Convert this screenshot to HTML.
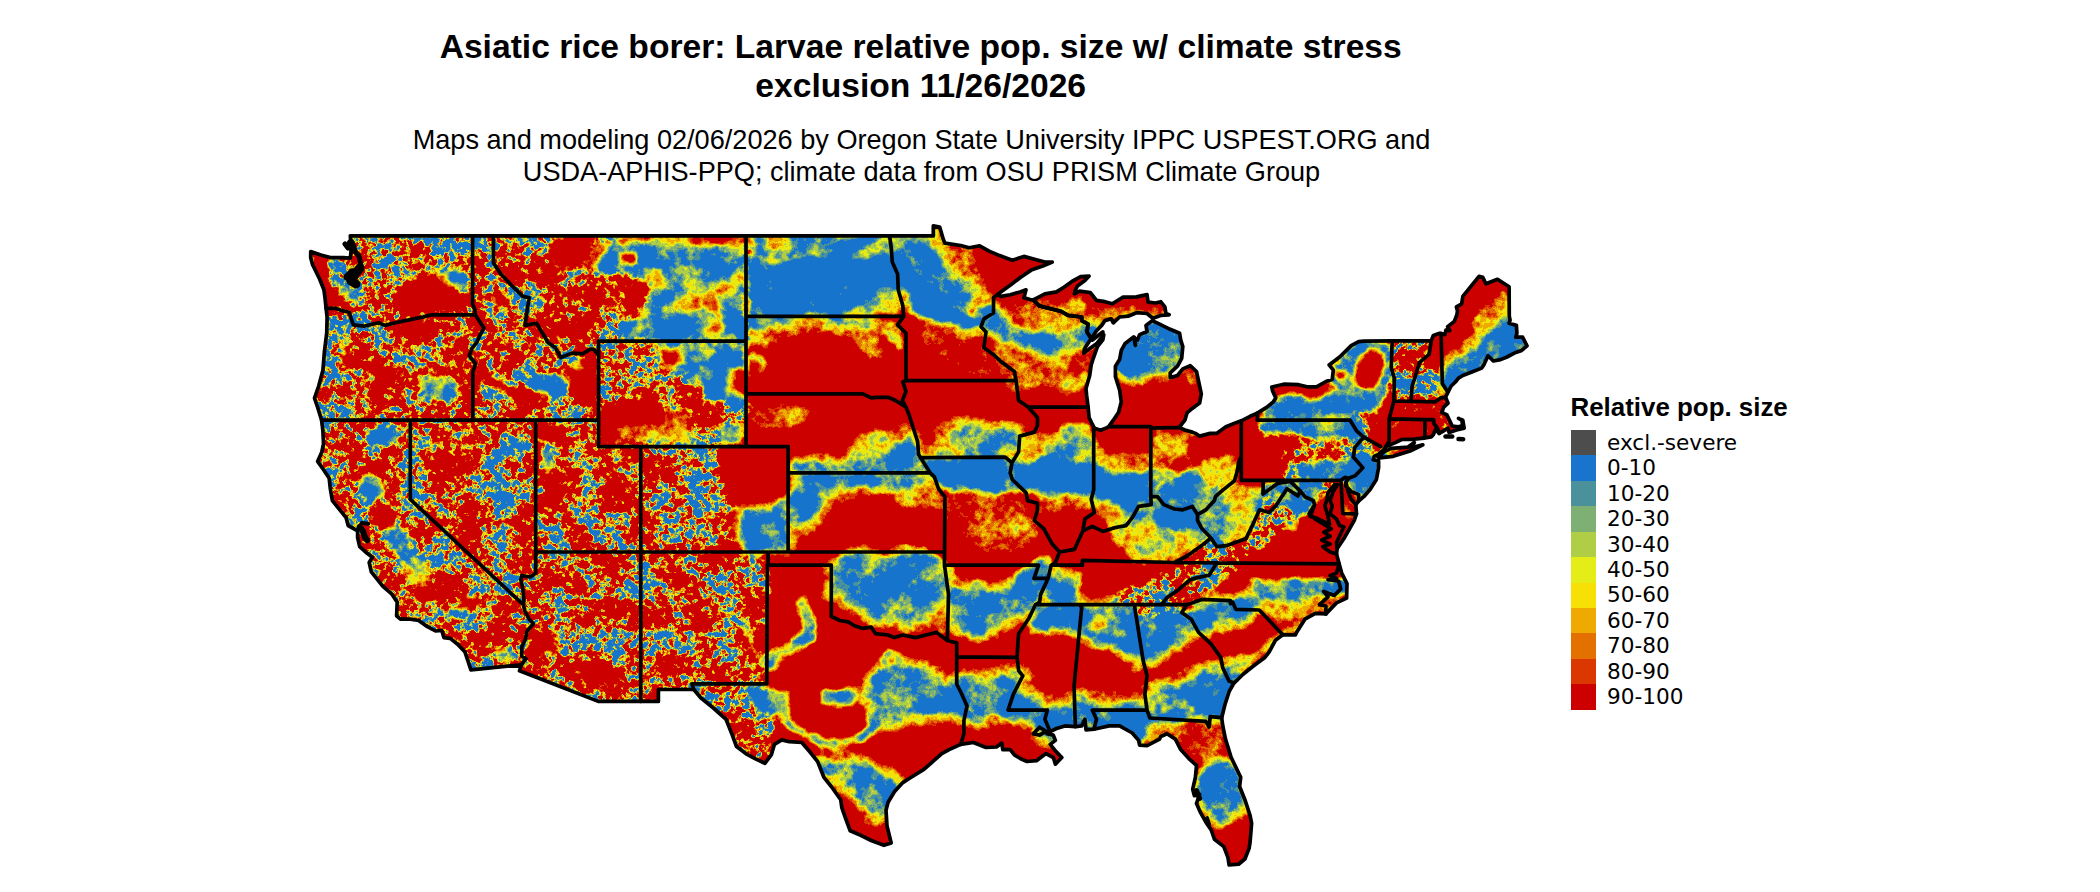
<!DOCTYPE html><html><head><meta charset="utf-8"><title>Asiatic rice borer</title><style>
html,body{margin:0;padding:0;background:#fff}body{width:2100px;height:892px;position:relative;overflow:hidden;font-family:"Liberation Sans",sans-serif;color:#000}
.t{position:absolute;white-space:nowrap;line-height:1;transform:translateX(-50%)}
.ti{font-weight:bold;font-size:33.62px;left:920.7px}.su{font-size:27.13px;left:921.5px}
.lt{position:absolute;left:1570.5px;top:395px;font-weight:bold;font-size:25.9px;line-height:1;white-space:nowrap}
.ll{position:absolute;left:1607px;font-family:"DejaVu Sans",sans-serif;font-size:21.6px;line-height:1;white-space:nowrap}
.lb{position:absolute;left:1571px;width:25px;height:25.6px}
svg{position:absolute;left:0;top:0}
</style></head><body>
<div class="t ti" style="top:29.7px">Asiatic rice borer: Larvae relative pop. size w/ climate stress</div>
<div class="t ti" style="top:69px">exclusion 11/26/2026</div>
<div class="t su" style="top:126.2px">Maps and modeling 02/06/2026 by Oregon State University IPPC USPEST.ORG and</div>
<div class="t su" style="top:158.3px">USDA-APHIS-PPQ; climate data from OSU PRISM Climate Group</div>
<svg width="2100" height="892" viewBox="0 0 2100 892">
<defs>
<clipPath id="us"><path d="M310.7 251.6L320.8 255.0L331.3 257.7L342.9 257.7L350.3 258.2L351.3 249.0L350.3 235.8L933.3 235.8L933.3 225.8L939.7 227.1L943.2 239.0L944.9 243.2L960.7 245.5L969.1 247.7L979.7 245.8L989.1 251.1L999.7 255.6L1012.3 260.3L1023.9 256.4L1035.4 259.5L1044.9 262.1L1052.3 262.1L1042.8 266.1L1031.2 270.1L1020.7 277.2L1011.2 284.5L1003.9 289.8L997.5 294.6L1000.7 296.4L1010.2 294.8L1020.7 291.7L1026.0 289.8L1023.9 297.7L1030.2 299.6L1033.3 299.8L1039.2 305.9L1060.7 311.2L1068.1 315.4L1081.7 317.0L1081.7 320.6L1088.1 324.1L1087.0 332.0L1091.2 338.6L1084.3 349.1L1083.9 353.1L1089.1 349.1L1096.5 343.8L1103.8 334.6L1102.8 339.9L1097.5 346.5L1093.3 358.3L1091.2 364.9L1089.7 375.5L1086.0 388.6L1086.6 395.2L1088.1 407.1L1089.1 417.6L1092.3 424.2L1094.4 428.2L1100.7 430.3L1107.0 427.6L1108.7 426.6L1150.8 426.6L1150.8 428.2L1179.2 427.4L1184.9 430.0L1192.3 432.1L1195.4 433.4L1199.6 436.1L1210.2 433.4L1216.5 433.4L1225.9 426.8L1235.4 422.9L1241.3 420.8L1250.1 416.3L1257.3 413.1L1267.0 407.1L1273.3 401.8L1275.8 397.9L1272.7 391.3L1271.8 387.0L1283.8 384.2L1298.6 384.7L1307.0 386.8L1316.5 386.8L1325.9 381.5L1332.2 379.4L1333.3 370.2L1329.1 364.9L1339.6 357.0L1351.2 345.7L1358.6 341.7L1363.8 341.2L1392.2 340.9L1431.2 340.9L1433.3 335.4L1439.6 333.3L1444.9 334.6L1445.9 330.1L1449.7 330.7L1447.6 326.7L1454.3 321.4L1456.9 314.8L1457.5 310.9L1456.4 306.9L1461.7 303.8L1462.8 296.4L1479.0 276.4L1482.8 277.4L1485.9 283.8L1497.5 279.3L1509.1 286.7L1509.3 316.4L1510.1 320.1L1509.1 323.3L1516.4 325.4L1516.9 333.3L1515.8 337.2L1519.6 337.2L1522.7 337.2L1527.0 345.9L1521.7 350.4L1514.3 353.1L1507.0 357.0L1500.6 359.6L1493.3 361.0L1488.0 355.7L1483.8 364.9L1481.7 368.1L1471.2 372.3L1462.8 375.5L1458.5 378.1L1455.4 382.0L1451.2 386.0L1448.0 392.1L1445.5 397.3L1448.0 403.1L1443.8 407.1L1441.7 412.3L1447.0 415.0L1450.1 421.6L1452.2 426.0L1458.5 426.8L1462.8 425.5L1461.7 420.2L1458.5 418.4L1462.8 420.2L1464.2 428.2L1456.4 430.0L1449.1 432.6L1448.0 428.2L1442.8 431.3L1439.2 433.4L1435.4 429.5L1433.3 434.7L1431.2 436.9L1423.6 438.2L1414.3 439.2L1401.7 439.5L1395.4 442.6L1385.9 446.6L1383.8 449.8L1379.6 453.2L1378.6 454.5L1374.3 456.3L1373.3 459.8L1378.6 461.1L1378.6 467.7L1376.4 479.5L1370.1 489.6L1363.8 496.7L1358.6 501.1L1355.8 504.6L1356.5 513.8L1354.3 520.4L1349.1 529.6L1343.8 538.8L1337.1 548.8L1336.5 554.1L1339.2 563.9L1341.7 573.1L1347.0 583.6L1346.6 598.1L1336.5 602.9L1325.9 613.9L1315.4 613.4L1304.9 619.2L1296.5 632.4L1295.4 635.0L1282.8 634.7L1275.4 640.3L1269.1 652.1L1264.9 657.4L1254.4 665.3L1242.8 674.5L1237.5 679.8L1233.9 683.0L1229.1 691.7L1224.9 704.8L1221.7 717.7L1222.8 725.9L1225.5 739.1L1231.2 757.5L1240.7 777.3L1239.6 786.5L1244.9 799.7L1250.1 815.5L1251.6 823.4L1250.1 841.9L1249.1 848.4L1244.9 859.0L1238.6 864.2L1229.1 865.0L1228.0 857.7L1223.8 846.6L1214.4 839.2L1211.2 830.0L1205.9 822.1L1200.7 812.9L1196.5 803.6L1199.6 794.4L1194.4 795.7L1192.7 789.2L1195.4 777.3L1196.5 765.4L1189.1 758.8L1180.7 749.6L1175.4 739.1L1167.0 733.8L1160.7 736.5L1159.6 739.1L1147.0 745.7L1139.6 745.1L1138.6 740.4L1132.3 733.0L1119.6 725.9L1109.1 725.9L1100.7 727.8L1094.0 729.1L1086.0 729.9L1084.9 719.3L1081.7 725.9L1075.4 726.7L1064.9 725.9L1056.5 728.5L1050.2 731.7L1047.0 733.8L1053.3 735.1L1055.4 740.4L1050.2 744.4L1055.4 750.9L1061.8 757.5L1055.4 764.1L1053.3 757.5L1046.0 753.6L1040.7 757.5L1036.5 760.7L1027.0 761.5L1020.7 758.8L1014.4 754.9L1010.2 749.6L1002.8 749.6L1001.8 743.0L996.5 747.0L986.0 747.5L973.3 742.5L960.7 744.4L949.1 749.6L941.8 753.6L934.4 760.2L923.9 769.4L911.2 777.3L902.8 782.6L894.4 791.8L888.1 802.3L886.0 810.2L887.0 826.0L891.2 842.9L883.9 845.3L871.2 840.5L860.7 835.3L850.2 830.8L846.0 819.5L841.8 807.6L840.7 799.7L831.3 786.5L823.9 777.3L817.6 761.5L810.2 752.3L801.8 742.5L789.2 741.7L781.8 739.9L774.4 744.4L771.3 754.9L764.9 763.3L755.5 758.8L747.1 754.4L736.5 746.5L732.3 735.1L726.0 719.3L713.4 708.0L700.7 697.7L693.8 689.5L658.4 689.5L658.4 701.4L598.2 701.4L519.5 670.8L521.4 664.8L470.9 669.8L468.1 661.4L465.0 652.1L457.6 644.2L450.2 638.4L443.9 637.6L441.8 630.5L435.5 631.0L426.0 625.8L418.7 620.5L410.3 619.2L400.4 619.2L396.6 615.8L397.2 602.1L391.9 594.2L382.9 586.3L371.3 571.8L369.2 562.5L372.4 557.3L367.1 553.3L359.7 546.7L357.6 537.5L357.6 530.9L348.2 525.6L346.1 517.7L336.6 505.9L332.4 500.6L330.3 488.8L329.2 478.2L323.9 470.3L317.6 461.4L321.8 451.9L323.5 444.0L322.9 430.8L321.6 420.2L317.6 407.1L314.5 398.1L318.7 386.0L322.9 370.2L324.4 351.7L326.7 333.3L327.1 317.5L326.1 308.3L325.0 297.7L323.9 289.8L319.7 279.3L312.6 264.8L310.7 257.7ZM1033.3 299.8L1044.9 293.8L1056.5 291.9L1063.9 287.2L1073.3 280.6L1080.7 276.6L1089.1 276.1L1084.9 280.6L1077.5 285.9L1075.4 289.8L1074.4 293.8L1079.6 291.1L1090.2 292.5L1096.5 300.4L1104.9 301.7L1112.3 303.8L1122.8 297.2L1136.5 296.9L1147.0 294.6L1148.1 302.2L1155.4 303.0L1160.7 301.7L1164.9 306.9L1165.9 313.5L1169.1 314.8L1160.7 315.4L1152.9 318.3L1147.0 313.5L1136.5 312.7L1128.1 316.2L1119.6 317.0L1113.3 322.8L1111.2 318.8L1104.9 320.6L1101.7 325.4L1096.5 330.7L1091.2 338.6L1087.0 332.0L1088.1 324.1L1081.7 320.6L1081.7 317.0L1068.1 315.4L1060.7 311.2L1039.2 305.9ZM1108.7 426.6L1113.3 420.2L1118.6 412.3L1121.3 401.8L1119.6 389.9L1115.4 376.8L1115.4 366.2L1119.6 359.6L1121.3 350.4L1124.9 343.8L1133.3 337.2L1137.5 339.9L1139.6 334.6L1147.0 331.5L1146.0 325.4L1152.3 320.6L1159.6 324.1L1170.2 329.3L1179.6 333.3L1180.7 339.9L1182.8 346.5L1181.7 358.3L1177.5 366.2L1170.2 372.8L1170.2 377.6L1177.5 375.5L1182.8 368.9L1190.2 365.7L1196.5 371.5L1199.6 386.0L1201.3 393.9L1199.6 403.1L1192.3 408.4L1187.0 412.9L1184.9 420.2L1179.2 427.4L1150.8 428.2L1150.8 426.6ZM1378.1 457.1L1383.8 451.9L1391.2 448.4L1408.0 447.1L1414.3 442.6L1411.2 447.9L1422.8 444.8L1410.1 451.1L1393.3 456.3L1379.6 457.9Z"/></clipPath>
<filter id="fe" x="300" y="220" width="1240" height="670" filterUnits="userSpaceOnUse" color-interpolation-filters="sRGB"><feTurbulence type="fractalNoise" baseFrequency="0.03" numOctaves="2" seed="11" result="nd"/><feDisplacementMap in="SourceGraphic" in2="nd" scale="10" xChannelSelector="R" yChannelSelector="G" result="dsp"/><feGaussianBlur in="dsp" stdDeviation="3" result="b"/><feColorMatrix in="b" type="matrix" values=".5 -.3 -.3 0 .25 .5 -.3 -.3 0 .25 .5 -.3 -.3 0 .25 0 0 0 0 1" result="t2"/><feColorMatrix in="b" type="matrix" values="0 1 0 0 0 0 1 0 0 0 0 1 0 0 0 0 0 0 0 1" result="F"/><feColorMatrix in="b" type="matrix" values="0 0 1 0 0 0 0 1 0 0 0 0 1 0 0 0 0 0 0 1" result="C"/><feTurbulence type="fractalNoise" baseFrequency="0.16" numOctaves="3" seed="7" result="n1"/><feColorMatrix in="n1" type="matrix" values="1.8 0 0 0 -0.4 1.8 0 0 0 -0.4 1.8 0 0 0 -0.4 0 0 0 0 1" result="N1"/><feTurbulence type="fractalNoise" baseFrequency="0.035" numOctaves="3" seed="23" result="n2"/><feColorMatrix in="n2" type="matrix" values="2.2 0 0 0 -0.6000000000000001 2.2 0 0 0 -0.6000000000000001 2.2 0 0 0 -0.6000000000000001 0 0 0 0 1" result="N2"/><feComposite in="F" in2="N1" operator="arithmetic" k1="1" k2="0" k3="0" k4="0" result="p1"/><feComposite in="C" in2="N2" operator="arithmetic" k1="1" k2="0" k3="0" k4="0" result="p2"/><feComposite in="t2" in2="p1" operator="arithmetic" k1="0" k2="1" k3=".6" k4="0" result="t3"/><feComposite in="t3" in2="p2" operator="arithmetic" k1="0" k2="1" k3=".6" k4="0" result="u"/><feComponentTransfer in="u"><feFuncR type="discrete" tableValues="0.094 0.094 0.094 0.094 0.094 0.094 0.094 0.094 0.094 0.094 0.094 0.094 0.094 0.094 0.094 0.094 0.290 0.494 0.690 0.894 0.969 0.933 0.894 0.855 0.804 0.804 0.804 0.804 0.804 0.804 0.804 0.804 0.804 0.804 0.804 0.804 0.804 0.804 0.804 0.804"/><feFuncG type="discrete" tableValues="0.455 0.455 0.455 0.455 0.455 0.455 0.455 0.455 0.455 0.455 0.455 0.455 0.455 0.455 0.455 0.455 0.569 0.690 0.808 0.929 0.878 0.667 0.439 0.220 0.000 0.000 0.000 0.000 0.000 0.000 0.000 0.000 0.000 0.000 0.000 0.000 0.000 0.000 0.000 0.000"/><feFuncB type="discrete" tableValues="0.804 0.804 0.804 0.804 0.804 0.804 0.804 0.804 0.804 0.804 0.804 0.804 0.804 0.804 0.804 0.804 0.608 0.451 0.271 0.094 0.020 0.000 0.000 0.000 0.000 0.000 0.000 0.000 0.000 0.000 0.000 0.000 0.000 0.000 0.000 0.000 0.000 0.000 0.000 0.000"/></feComponentTransfer></filter>
</defs>
<g clip-path="url(#us)">
<g filter="url(#fe)"><rect x="280" y="200" width="1280" height="710" fill="#ff1a4c"/><path d="M614.8 239.1L660.0 239.1L660.0 275.5L643.1 277.5L622.9 269.4L602.7 273.4L590.6 277.5L598.7 265.4L610.8 253.3Z" fill="none" stroke="#7d2638" stroke-width="10" stroke-linejoin="round"/><path d="M358.5 473.6L372.7 471.6L384.8 481.7L384.8 499.9L368.6 503.9L358.5 489.8Z" fill="none" stroke="#7d2638" stroke-width="8" stroke-linejoin="round"/><path d="M382.7 526.1L400.9 524.1L413.0 542.2L413.0 562.4L400.9 562.4L388.8 546.3Z" fill="none" stroke="#7d2638" stroke-width="10" stroke-linejoin="round"/><path d="M513.9 653.6L512.9 657.1L510.1 659.9L506.1 661.5L501.6 661.5L497.5 659.9L494.7 657.1L493.7 653.6L494.7 650.1L497.5 647.3L501.6 645.7L506.1 645.7L510.1 647.3L512.9 650.1Z" fill="none" stroke="#7d2638" stroke-width="8" stroke-linejoin="round"/><path d="M300.0 220.0L748.0 220.0L748.0 447.0L722.0 447.0L722.0 552.0L767.0 552.0L767.0 690.0L775.0 720.0L765.0 780.0L300.0 780.0Z" fill="#a8e6b2"/><path d="M311.1 251.2L330.3 257.3L326.2 271.4L334.3 285.5L332.3 305.7L326.2 305.7L320.2 275.5Z" fill="#ff1a4c"/><path d="M328.3 261.3L346.4 261.3L348.4 277.5L340.4 291.6L330.3 281.5Z" fill="#4cccb2"/><path d="M336.3 283.5L352.5 285.5L360.5 293.6L358.5 305.7L346.4 305.7L338.3 295.6Z" fill="#3d264c"/><path d="M352.5 237.1L471.5 237.1L471.5 265.4L425.1 267.4L409.0 281.5L394.9 295.6L380.7 313.8L360.5 309.8L358.5 285.5L360.5 265.4Z" fill="#8ce6b2"/><path d="M425.1 269.4L441.3 265.4L461.5 269.4L470.5 277.5L470.5 291.6L459.4 289.6L445.3 281.5L437.2 273.4Z" fill="#3d264c"/><path d="M429.2 275.5L441.3 275.5L455.4 285.5L453.4 291.6L439.3 289.6L429.2 283.5Z" fill="#9c262e"/><path d="M409.0 283.5L421.1 273.4L429.2 273.4L437.2 287.6L457.4 292.6L469.5 297.7L469.5 305.7L453.4 309.8L429.2 313.8L413.0 311.8L394.9 305.7L396.9 295.6Z" fill="#ff1a4c"/><path d="M326.2 313.8L352.5 325.9L356.5 350.1L348.4 378.4L336.3 402.6L316.1 402.6L322.2 366.3L325.2 338.0Z" fill="#8ce6b2"/><path d="M340.4 334.0L348.4 338.0L348.4 362.2L340.4 366.3Z" fill="#7d2638"/><path d="M394.9 325.9L441.3 319.9L473.6 317.8L477.6 334.0L453.4 338.0L429.2 346.1L404.9 350.1L388.8 346.1Z" fill="#bfccb2"/><path d="M366.6 366.3L413.0 364.3L429.2 354.2L441.3 346.1L453.4 338.0L467.5 338.0L471.5 354.2L467.5 366.3L453.4 370.3L441.3 382.4L421.1 386.5L409.0 394.5L396.9 404.6L366.6 404.6L360.5 386.5Z" fill="#d9b299"/><path d="M417.1 378.4L441.3 374.3L457.4 378.4L461.5 392.5L449.3 402.6L425.1 400.6L415.0 390.5Z" fill="#3d264c"/><path d="M493.7 291.6L509.9 293.6L513.9 305.7L501.8 309.8L491.7 301.7Z" fill="#ff1a4c"/><path d="M474.6 358.2L481.6 364.3L493.7 376.4L513.9 386.5L542.2 392.5L552.3 394.5L546.2 402.6L522.0 398.6L493.7 390.5L477.6 378.4Z" fill="#ff1a4c"/><path d="M528.1 374.3L552.3 372.3L570.4 378.4L568.4 396.5L552.3 398.6L534.1 386.5Z" fill="#3d264c"/><path d="M562.4 366.3L578.5 358.2L596.7 354.2L596.7 404.6L580.5 404.6L570.4 378.4Z" fill="#ff1a4c"/><path d="M582.5 367.3L581.8 369.9L579.9 372.0L577.1 373.2L573.9 373.2L571.1 372.0L569.1 369.9L568.4 367.3L569.1 364.7L571.1 362.5L573.9 361.4L577.1 361.4L579.9 362.5L581.8 364.7Z" fill="#7d2638"/><path d="M495.8 239.1L554.3 239.1L582.5 277.5L582.5 338.0L552.3 346.1L532.1 321.9L528.1 295.6L501.8 275.5Z" fill="#bfccb2"/><path d="M554.3 239.1L582.5 239.1L586.6 251.2L578.5 265.4L562.4 271.4L552.3 261.3L550.3 247.2Z" fill="#ff1a4c"/><path d="M614.8 239.1L660.0 239.1L660.0 275.5L643.1 277.5L622.9 269.4L602.7 273.4L590.6 277.5L598.7 265.4L610.8 253.3Z" fill="#3d264c"/><path d="M582.5 241.1L614.8 239.1L610.8 253.3L598.7 265.4L586.6 273.4L578.5 267.4L586.6 253.3Z" fill="#9c262e"/><path d="M643.1 257.3L642.1 259.9L639.3 262.0L635.2 263.2L630.8 263.2L626.7 262.0L623.9 259.9L622.9 257.3L623.9 254.7L626.7 252.6L630.8 251.4L635.2 251.4L639.3 252.6L642.1 254.7Z" fill="#ff1a4c"/><path d="M582.5 285.5L596.7 277.5L610.8 273.4L622.9 279.5L639.1 281.5L647.1 293.6L643.1 305.7L631.0 313.8L614.8 319.9L598.7 313.8L586.6 305.7L578.5 295.6Z" fill="#d9b299"/><path d="M647.1 275.5L660.0 275.5L660.0 338.0L647.1 338.0L643.1 315.8L649.1 293.6Z" fill="#3d264c"/><path d="M600.7 342.1L660.0 342.1L660.0 404.6L600.7 404.6Z" fill="#66e6b2"/><path d="M366.6 225.0L366.6 225.0L366.6 225.0Z" fill="#3d264c"/><path d="M366.6 427.2L396.9 425.2L400.9 441.3L386.8 447.4L368.6 441.3Z" fill="#3d264c"/><path d="M358.5 473.6L372.7 471.6L384.8 481.7L384.8 499.9L368.6 503.9L358.5 489.8Z" fill="#3d264c"/><path d="M368.6 507.9L388.8 505.9L398.9 518.0L388.8 528.1L372.7 524.1Z" fill="#ff1a4c"/><path d="M382.7 526.1L400.9 524.1L413.0 542.2L413.0 562.4L400.9 562.4L388.8 546.3Z" fill="#472633"/><path d="M400.9 558.4L417.1 554.3L431.2 566.5L429.2 584.6L404.9 584.6Z" fill="#7d2638"/><path d="M429.2 435.3L453.4 429.2L477.6 435.3L481.6 455.5L473.6 471.6L449.3 471.6L429.2 463.5L421.1 449.4Z" fill="#d9b299"/><path d="M481.6 437.3L532.1 435.3L534.1 501.9L501.8 505.9L473.6 489.8L481.6 465.5Z" fill="#66e6b2"/><path d="M539.2 447.4L554.3 445.4L556.3 471.6L542.2 477.7Z" fill="#692638"/><path d="M539.2 423.2L562.4 423.2L560.3 439.3L539.2 441.3Z" fill="#ff1a4c"/><path d="M542.2 475.6L562.4 471.6L586.6 477.7L582.5 501.9L562.4 509.9L546.2 530.1L540.2 518.0Z" fill="#d9b299"/><path d="M598.7 451.4L641.1 449.4L641.1 485.7L614.8 485.7L598.7 471.6Z" fill="#d9b299"/><path d="M600.7 405.0L660.0 405.0L660.0 421.1L622.9 423.2L614.8 443.3L600.7 443.3Z" fill="#ff1a4c"/><path d="M622.9 423.2L660.0 421.1L660.0 443.3L614.8 443.3Z" fill="#9c262e"/><path d="M437.2 594.1L436.0 597.6L432.7 600.4L427.8 602.0L422.4 602.0L417.6 600.4L414.2 597.6L413.0 594.1L414.2 590.6L417.6 587.8L422.4 586.2L427.8 586.2L432.7 587.8L436.0 590.6Z" fill="#ff1a4c"/><path d="M481.6 604.2L480.4 607.2L477.1 609.7L472.2 611.1L466.8 611.1L462.0 609.7L458.6 607.2L457.4 604.2L458.6 601.1L462.0 598.7L466.8 597.3L472.2 597.3L477.1 598.7L480.4 601.1Z" fill="#ff1a4c"/><path d="M463.5 612.2L462.6 614.4L460.1 616.2L456.4 617.2L452.4 617.2L448.7 616.2L446.2 614.4L445.3 612.2L446.2 610.1L448.7 608.3L452.4 607.3L456.4 607.3L460.1 608.3L462.6 610.1Z" fill="#3d264c"/><path d="M513.9 653.6L512.9 657.1L510.1 659.9L506.1 661.5L501.6 661.5L497.5 659.9L494.7 657.1L493.7 653.6L494.7 650.1L497.5 647.3L501.6 645.7L506.1 645.7L510.1 647.3L512.9 650.1Z" fill="#3d264c"/><path d="M532.1 631.4L558.3 631.4L558.3 651.6L532.1 651.6Z" fill="#ff1a4c"/><path d="M566.4 661.7L602.7 659.7L614.8 675.8L606.8 698.0L582.5 694.0L566.4 679.9Z" fill="#d9b299"/><path d="M767.0 585.0L767.0 683.9L773.0 706.1L769.0 764.6L690.3 764.6L690.3 681.9L660.0 681.9L660.0 585.0Z" fill="#a8e6b2"/><path d="M738.7 607.2L766.0 605.2L766.0 681.9L748.8 681.9L744.8 645.5Z" fill="#d9b299"/><path d="M742.7 623.3L750.8 645.5L764.9 661.7" fill="none" stroke="#3d264c" stroke-width="6" stroke-linejoin="round" stroke-linecap="round"/><path d="M660.0 446.4L720.5 446.4L722.6 471.6L728.6 491.8L740.7 514.0L736.7 534.2L744.8 550.3L660.0 550.3Z" fill="#8ce6b2"/><path d="M895.4 250.2L907.5 260.3L913.6 282.5L921.6 296.6L933.7 306.7L953.9 314.8L980.2 318.8L988.2 314.8L988.2 330.9L980.2 324.9L962.0 324.9L949.9 322.8L937.8 320.8L929.7 314.8L921.6 310.7L913.6 302.7L907.5 292.6L901.5 284.5L895.4 270.4Z" fill="none" stroke="#9c262e" stroke-width="23.400000000000002" stroke-linejoin="round"/><path d="M791.2 465.5L821.5 458.5L841.6 462.5L853.7 452.4L861.8 442.3L878.0 434.3L894.1 434.3L908.2 428.2L915.3 433.3L928.4 471.6L791.2 472.6Z" fill="none" stroke="#9c262e" stroke-width="14.4" stroke-linejoin="round"/><path d="M958.7 427.2L1020.0 425.2L1020.0 459.5L946.6 459.5L950.6 445.4Z" fill="none" stroke="#9c262e" stroke-width="12.6" stroke-linejoin="round"/><path d="M924.4 459.5L1020.0 459.5L1020.0 485.7L1003.1 495.8L991.0 493.8L974.8 481.7L962.7 485.7L950.6 493.8L938.5 485.7L928.4 471.6Z" fill="none" stroke="#9c262e" stroke-width="28.8" stroke-linejoin="round"/><path d="M791.2 473.6L928.4 473.6L928.4 481.7L902.2 485.7L869.9 482.7L853.7 486.7L833.6 494.8L821.5 502.9L813.4 515.0L801.3 525.1L791.2 527.1Z" fill="none" stroke="#9c262e" stroke-width="27.0" stroke-linejoin="round"/><path d="M740.7 514.0L764.9 505.9L787.1 501.9L787.1 550.3L748.8 546.3L736.7 530.1Z" fill="none" stroke="#9c262e" stroke-width="18.0" stroke-linejoin="round"/><path d="M871.9 679.9L886.0 669.8L902.2 665.7L922.4 673.8L942.5 681.9L962.7 689.9L964.7 716.2L942.5 714.2L912.3 714.2L892.1 718.2L873.9 714.2L869.9 698.0Z" fill="none" stroke="#9c262e" stroke-width="25.2" stroke-linejoin="round"/><path d="M835.0 568.0L860.0 555.5L900.0 555.5L925.0 563.0L942.5 573.0L942.5 598.0L925.0 618.0L900.0 623.0L875.0 618.0L850.0 603.0L832.5 593.0Z" fill="none" stroke="#9c262e" stroke-width="25.2" stroke-linejoin="round"/><path d="M947.5 593.0L975.0 588.0L1000.0 593.0L1020.0 583.0L1040.0 568.0L1045.0 578.0L1040.0 593.0L1025.0 613.0L1000.0 623.0L975.0 633.0L950.0 628.0Z" fill="none" stroke="#9c262e" stroke-width="25.2" stroke-linejoin="round"/><path d="M1045.0 578.0L1075.0 578.0L1075.0 603.0L1050.0 608.0L1042.5 593.0Z" fill="none" stroke="#9c262e" stroke-width="18.0" stroke-linejoin="round"/><path d="M940.0 431.2L960.2 424.2L990.5 427.2L1020.7 431.2L1016.7 456.5L940.0 456.5Z" fill="none" stroke="#9c262e" stroke-width="14.4" stroke-linejoin="round"/><path d="M1113.6 518.0L1141.8 518.0L1162.0 528.1L1194.3 528.1L1206.4 546.3L1182.2 558.4L1141.8 558.4L1117.6 542.2Z" fill="none" stroke="#9c262e" stroke-width="14.4" stroke-linejoin="round"/><path d="M940.0 457.5L1010.6 456.5L1020.7 465.5L1040.9 457.5L1053.0 447.4L1069.2 445.4L1085.3 453.4L1095.4 463.5L1107.5 471.6L1121.6 475.6L1133.7 471.6L1149.9 473.6L1162.0 467.6L1174.1 475.6L1186.2 469.6L1202.4 475.6L1202.4 534.2L1194.3 526.1L1178.1 530.1L1162.0 526.1L1149.9 514.0L1137.8 518.0L1129.7 512.0L1117.6 507.9L1101.5 499.9L1093.4 495.8L1069.2 493.8L1053.0 497.8L1028.8 493.8L1016.7 489.8L1000.5 493.8L980.4 485.7L960.2 489.8L940.0 485.7Z" fill="none" stroke="#9c262e" stroke-width="32.4" stroke-linejoin="round"/><path d="M1445.0 380.0L1457.5 360.0L1475.0 345.0L1490.0 330.0L1505.0 320.0L1512.5 320.0L1525.0 327.5L1535.0 345.0L1515.0 365.0L1500.0 362.5L1485.0 367.5L1475.0 377.5L1460.0 390.0L1450.0 395.0Z" fill="none" stroke="#9c262e" stroke-width="25.2" stroke-linejoin="round"/><path d="M1118.5 346.6L1126.6 336.5L1138.7 328.4L1148.8 320.4L1156.9 318.3L1169.0 320.4L1181.1 326.4L1189.2 336.5L1190.2 348.6L1187.1 360.7L1179.1 368.8L1169.0 370.8L1156.9 371.8L1146.8 374.9L1136.7 376.9L1126.6 374.9L1118.5 368.8L1118.5 356.7Z" fill="none" stroke="#9c262e" stroke-width="18.0" stroke-linejoin="round"/><path d="M1184.1 444.5L1183.6 446.7L1182.2 448.4L1180.2 449.4L1177.9 449.4L1175.9 448.4L1174.5 446.7L1174.0 444.5L1174.5 442.3L1175.9 440.5L1177.9 439.6L1180.2 439.6L1182.2 440.5L1183.6 442.3Z" fill="none" stroke="#9c262e" stroke-width="14.4" stroke-linejoin="round"/><path d="M1034.3 605.2L1137.2 605.2L1141.3 617.3L1161.5 613.3L1181.6 611.2L1201.8 605.2L1232.1 601.1L1258.3 597.1L1270.4 601.1L1258.3 605.2L1242.2 617.3L1226.0 625.4L1209.9 629.4L1193.7 633.4L1181.6 643.5L1165.5 651.6L1153.4 659.7L1137.2 661.7L1125.1 653.6L1113.0 639.5L1096.9 641.5L1080.7 631.4L1066.6 625.4L1050.5 631.4L1034.3 625.4Z" fill="none" stroke="#9c262e" stroke-width="21.6" stroke-linejoin="round"/><path d="M1000.0 673.8L1012.1 685.9L1028.3 700.0L1040.4 706.1L1060.5 706.1L1076.7 704.1L1092.8 706.1L1113.0 704.1L1129.2 704.1L1145.3 700.0L1157.4 689.9L1173.6 685.9L1189.7 681.9L1201.8 673.8L1218.0 669.8L1238.1 665.7L1242.2 689.9L1230.1 714.2L1209.9 724.3L1201.8 718.2L1181.6 722.2L1161.5 730.3L1153.4 724.3L1145.3 730.3L1141.3 746.5L1125.1 738.4L1104.9 738.4L1092.8 738.4L1080.7 742.4L1060.5 738.4L1048.4 734.3L1036.3 726.3L1020.2 716.2L1000.0 714.2Z" fill="none" stroke="#9c262e" stroke-width="28.8" stroke-linejoin="round"/><path d="M962.7 681.9L1020.0 673.8L1020.0 716.2L962.7 716.2Z" fill="none" stroke="#9c262e" stroke-width="25.2" stroke-linejoin="round"/><path d="M1201.8 774.5L1218.6 763.3L1238.3 768.9L1243.9 797.0L1241.1 813.8L1218.6 819.4L1201.8 808.2L1196.2 791.4Z" fill="none" stroke="#9c262e" stroke-width="18.0" stroke-linejoin="round"/><path d="M821.4 763.3L846.6 760.5L874.6 766.1L897.0 785.7L891.4 813.7L869.0 813.7L846.6 785.7L829.8 780.1Z" fill="none" stroke="#9c262e" stroke-width="21.6" stroke-linejoin="round"/><path d="M620.0 227.0L746.1 227.0L746.1 243.2L724.9 245.2L700.7 247.2L680.5 243.2L660.4 245.2L640.2 243.2L620.0 245.2Z" fill="none" stroke="#7d2638" stroke-width="4.8" stroke-linejoin="round"/><path d="M640.2 267.4L660.4 265.4L668.4 277.5L666.4 291.6L654.3 289.6L644.2 279.5Z" fill="none" stroke="#7d2638" stroke-width="6.0" stroke-linejoin="round"/><path d="M656.3 346.1L680.5 344.1L686.6 362.2L676.5 374.3L660.4 370.3Z" fill="none" stroke="#7d2638" stroke-width="4.8" stroke-linejoin="round"/><path d="M722.9 370.3L746.1 364.3L746.1 394.5L724.9 392.5Z" fill="none" stroke="#7d2638" stroke-width="6.0" stroke-linejoin="round"/><path d="M759.3 227.0L787.5 227.0L791.5 250.2L765.3 254.3Z" fill="none" stroke="#7d2638" stroke-width="6.0" stroke-linejoin="round"/><path d="M829.9 227.0L862.2 227.0L858.1 239.1L833.9 239.1Z" fill="none" stroke="#7d2638" stroke-width="3.5999999999999996" stroke-linejoin="round"/><path d="M895.4 250.2L907.5 260.3L913.6 282.5L921.6 296.6L933.7 306.7L953.9 314.8L980.2 318.8L988.2 314.8L988.2 330.9L980.2 324.9L962.0 324.9L949.9 322.8L937.8 320.8L929.7 314.8L921.6 310.7L913.6 302.7L907.5 292.6L901.5 284.5L895.4 270.4Z" fill="none" stroke="#7d2638" stroke-width="7.199999999999999" stroke-linejoin="round"/><path d="M924.4 459.5L1020.0 459.5L1020.0 485.7L1003.1 495.8L991.0 493.8L974.8 481.7L962.7 485.7L950.6 493.8L938.5 485.7L928.4 471.6Z" fill="none" stroke="#7d2638" stroke-width="8.4" stroke-linejoin="round"/><path d="M791.2 473.6L928.4 473.6L928.4 481.7L902.2 485.7L869.9 482.7L853.7 486.7L833.6 494.8L821.5 502.9L813.4 515.0L801.3 525.1L791.2 527.1Z" fill="none" stroke="#7d2638" stroke-width="8.4" stroke-linejoin="round"/><path d="M740.7 514.0L764.9 505.9L787.1 501.9L787.1 550.3L748.8 546.3L736.7 530.1Z" fill="none" stroke="#7d2638" stroke-width="6.0" stroke-linejoin="round"/><path d="M871.9 679.9L886.0 669.8L902.2 665.7L922.4 673.8L942.5 681.9L962.7 689.9L964.7 716.2L942.5 714.2L912.3 714.2L892.1 718.2L873.9 714.2L869.9 698.0Z" fill="none" stroke="#7d2638" stroke-width="9.6" stroke-linejoin="round"/><path d="M819.4 689.9L853.7 687.9L851.7 704.1L821.5 704.1Z" fill="none" stroke="#7d2638" stroke-width="6.0" stroke-linejoin="round"/><path d="M750.8 692.0L789.2 689.9L789.2 714.2L764.9 714.2L750.8 704.1Z" fill="none" stroke="#7d2638" stroke-width="6.0" stroke-linejoin="round"/><path d="M903.2 660.7L902.2 664.2L899.4 667.0L895.3 668.6L890.9 668.6L886.8 667.0L884.0 664.2L883.0 660.7L884.0 657.2L886.8 654.4L890.9 652.8L895.3 652.8L899.4 654.4L902.2 657.2Z" fill="none" stroke="#7d2638" stroke-width="4.8" stroke-linejoin="round"/><path d="M835.0 568.0L860.0 555.5L900.0 555.5L925.0 563.0L942.5 573.0L942.5 598.0L925.0 618.0L900.0 623.0L875.0 618.0L850.0 603.0L832.5 593.0Z" fill="none" stroke="#7d2638" stroke-width="9.6" stroke-linejoin="round"/><path d="M947.5 593.0L975.0 588.0L1000.0 593.0L1020.0 583.0L1040.0 568.0L1045.0 578.0L1040.0 593.0L1025.0 613.0L1000.0 623.0L975.0 633.0L950.0 628.0Z" fill="none" stroke="#7d2638" stroke-width="9.6" stroke-linejoin="round"/><path d="M1045.0 578.0L1075.0 578.0L1075.0 603.0L1050.0 608.0L1042.5 593.0Z" fill="none" stroke="#7d2638" stroke-width="8.4" stroke-linejoin="round"/><path d="M940.0 457.5L1010.6 456.5L1020.7 465.5L1040.9 457.5L1053.0 447.4L1069.2 445.4L1085.3 453.4L1095.4 463.5L1107.5 471.6L1121.6 475.6L1133.7 471.6L1149.9 473.6L1162.0 467.6L1174.1 475.6L1186.2 469.6L1202.4 475.6L1202.4 534.2L1194.3 526.1L1178.1 530.1L1162.0 526.1L1149.9 514.0L1137.8 518.0L1129.7 512.0L1117.6 507.9L1101.5 499.9L1093.4 495.8L1069.2 493.8L1053.0 497.8L1028.8 493.8L1016.7 489.8L1000.5 493.8L980.4 485.7L960.2 489.8L940.0 485.7Z" fill="none" stroke="#7d2638" stroke-width="9.6" stroke-linejoin="round"/><path d="M1258.5 421.1L1361.5 421.1L1361.5 439.3L1329.2 443.3L1296.9 437.3L1258.5 435.3Z" fill="none" stroke="#7d2638" stroke-width="7.199999999999999" stroke-linejoin="round"/><path d="M1296.9 465.5L1325.1 459.5L1357.4 455.5L1361.5 451.4L1387.7 451.4L1387.7 473.6L1375.6 493.8L1361.5 505.9L1353.4 485.7L1345.3 479.7L1296.9 479.7Z" fill="none" stroke="#7d2638" stroke-width="7.199999999999999" stroke-linejoin="round"/><path d="M1264.6 483.7L1325.1 481.7L1321.1 499.9L1304.9 509.9L1276.7 505.9Z" fill="none" stroke="#7d2638" stroke-width="6.0" stroke-linejoin="round"/><path d="M1445.0 380.0L1457.5 360.0L1475.0 345.0L1490.0 330.0L1505.0 320.0L1512.5 320.0L1525.0 327.5L1535.0 345.0L1515.0 365.0L1500.0 362.5L1485.0 367.5L1475.0 377.5L1460.0 390.0L1450.0 395.0Z" fill="none" stroke="#7d2638" stroke-width="7.199999999999999" stroke-linejoin="round"/><path d="M1340.0 347.5L1362.5 340.0L1390.0 342.5L1390.0 400.0L1345.0 400.0L1332.5 380.0Z" fill="none" stroke="#7d2638" stroke-width="6.0" stroke-linejoin="round"/><path d="M1261.8 401.1L1278.0 397.1L1322.4 399.1L1330.4 393.0L1378.9 393.0L1382.9 409.2L1322.4 417.2L1261.8 419.3Z" fill="none" stroke="#7d2638" stroke-width="6.0" stroke-linejoin="round"/><path d="M1118.5 346.6L1126.6 336.5L1138.7 328.4L1148.8 320.4L1156.9 318.3L1169.0 320.4L1181.1 326.4L1189.2 336.5L1190.2 348.6L1187.1 360.7L1179.1 368.8L1169.0 370.8L1156.9 371.8L1146.8 374.9L1136.7 376.9L1126.6 374.9L1118.5 368.8L1118.5 356.7Z" fill="none" stroke="#7d2638" stroke-width="6.0" stroke-linejoin="round"/><path d="M1034.3 605.2L1137.2 605.2L1141.3 617.3L1161.5 613.3L1181.6 611.2L1201.8 605.2L1232.1 601.1L1258.3 597.1L1270.4 601.1L1258.3 605.2L1242.2 617.3L1226.0 625.4L1209.9 629.4L1193.7 633.4L1181.6 643.5L1165.5 651.6L1153.4 659.7L1137.2 661.7L1125.1 653.6L1113.0 639.5L1096.9 641.5L1080.7 631.4L1066.6 625.4L1050.5 631.4L1034.3 625.4Z" fill="none" stroke="#7d2638" stroke-width="8.4" stroke-linejoin="round"/><path d="M1000.0 585.0L1040.4 585.0L1034.3 605.2L1024.2 611.2L1000.0 607.2Z" fill="none" stroke="#7d2638" stroke-width="7.199999999999999" stroke-linejoin="round"/><path d="M1000.0 673.8L1012.1 685.9L1028.3 700.0L1040.4 706.1L1060.5 706.1L1076.7 704.1L1092.8 706.1L1113.0 704.1L1129.2 704.1L1145.3 700.0L1157.4 689.9L1173.6 685.9L1189.7 681.9L1201.8 673.8L1218.0 669.8L1238.1 665.7L1242.2 689.9L1230.1 714.2L1209.9 724.3L1201.8 718.2L1181.6 722.2L1161.5 730.3L1153.4 724.3L1145.3 730.3L1141.3 746.5L1125.1 738.4L1104.9 738.4L1092.8 738.4L1080.7 742.4L1060.5 738.4L1048.4 734.3L1036.3 726.3L1020.2 716.2L1000.0 714.2Z" fill="none" stroke="#7d2638" stroke-width="9.6" stroke-linejoin="round"/><path d="M1252.3 581.0L1355.2 581.0L1355.2 593.1L1302.7 599.1L1262.4 601.1Z" fill="none" stroke="#7d2638" stroke-width="6.0" stroke-linejoin="round"/><path d="M962.7 681.9L1020.0 673.8L1020.0 716.2L962.7 716.2Z" fill="none" stroke="#7d2638" stroke-width="9.6" stroke-linejoin="round"/><path d="M1201.8 774.5L1218.6 763.3L1238.3 768.9L1243.9 797.0L1241.1 813.8L1218.6 819.4L1201.8 808.2L1196.2 791.4Z" fill="none" stroke="#7d2638" stroke-width="7.199999999999999" stroke-linejoin="round"/><path d="M821.4 763.3L846.6 760.5L874.6 766.1L897.0 785.7L891.4 813.7L869.0 813.7L846.6 785.7L829.8 780.1Z" fill="none" stroke="#7d2638" stroke-width="7.199999999999999" stroke-linejoin="round"/><path d="M790.5 465.0L840.9 461.6L881.3 457.5L921.6 460.5L921.6 471.0L790.5 471.0Z" fill="none" stroke="#7d2638" stroke-width="4.8" stroke-linejoin="round"/><path d="M620.0 227.0L746.1 227.0L746.1 340.0L620.0 340.0Z" fill="#3d264c"/><path d="M668.4 267.4L704.8 265.4L733.0 275.5L729.0 285.5L708.8 295.6L680.5 299.7L666.4 291.6Z" fill="#692638"/><path d="M620.0 227.0L746.1 227.0L746.1 243.2L724.9 245.2L700.7 247.2L680.5 243.2L660.4 245.2L640.2 243.2L620.0 245.2Z" fill="#9c262e"/><path d="M640.2 257.3L639.4 259.9L637.1 262.0L633.9 263.2L630.3 263.2L627.1 262.0L624.8 259.9L624.0 257.3L624.8 254.7L627.1 252.6L630.3 251.4L633.9 251.4L637.1 252.6L639.4 254.7Z" fill="#ff1a4c"/><path d="M652.3 240.1L651.7 241.4L650.0 242.5L647.6 243.1L644.9 243.1L642.5 242.5L640.8 241.4L640.2 240.1L640.8 238.8L642.5 237.8L644.9 237.2L647.6 237.2L650.0 237.8L651.7 238.8Z" fill="#ff1a4c"/><path d="M700.7 241.1L700.2 242.9L698.8 244.3L696.8 245.1L694.6 245.1L692.5 244.3L691.1 242.9L690.6 241.1L691.1 239.4L692.5 238.0L694.6 237.2L696.8 237.2L698.8 238.0L700.2 239.4Z" fill="#ff1a4c"/><path d="M724.9 240.1L723.9 241.4L721.1 242.5L717.1 243.1L712.6 243.1L708.6 242.5L705.8 241.4L704.8 240.1L705.8 238.8L708.6 237.8L712.6 237.2L717.1 237.2L721.1 237.8L723.9 238.8Z" fill="#ff1a4c"/><path d="M640.2 267.4L660.4 265.4L668.4 277.5L666.4 291.6L654.3 289.6L644.2 279.5Z" fill="#9c262e"/><path d="M620.0 273.4L632.1 277.5L646.2 285.5L644.2 301.7L636.1 317.8L620.0 319.9Z" fill="#d9b299"/><path d="M743.1 273.4L729.0 287.6L708.8 299.7L688.6 303.7L674.5 307.7L668.4 315.8" fill="none" stroke="#7d2638" stroke-width="16" stroke-linejoin="round" stroke-linecap="round"/><path d="M708.8 299.7L718.9 311.8L720.9 321.9L708.8 334.0" fill="none" stroke="#7d2638" stroke-width="16" stroke-linejoin="round" stroke-linecap="round"/><path d="M741.1 275.5L729.0 287.6L708.8 299.7L688.6 303.7L676.5 307.7" fill="none" stroke="#9c262e" stroke-width="8" stroke-linejoin="round" stroke-linecap="round"/><path d="M708.8 299.7L718.9 311.8L720.9 321.9L710.8 332.0" fill="none" stroke="#9c262e" stroke-width="8" stroke-linejoin="round" stroke-linecap="round"/><path d="M620.0 342.1L746.1 342.1L746.1 404.6L620.0 404.6Z" fill="#3d264c"/><path d="M620.0 342.1L656.3 342.1L660.4 370.3L686.6 378.4L686.6 386.5L620.0 386.5Z" fill="#66e6b2"/><path d="M656.3 346.1L680.5 344.1L686.6 362.2L676.5 374.3L660.4 370.3Z" fill="#9c262e"/><path d="M662.4 350.1L676.5 349.1L680.5 362.2L670.5 368.3Z" fill="#ff1a4c"/><path d="M696.7 344.1L716.9 344.1L714.9 354.2L700.7 356.2Z" fill="#7d2638"/><path d="M722.9 370.3L746.1 364.3L746.1 394.5L724.9 392.5Z" fill="#9c262e"/><path d="M735.0 372.3L746.1 370.3L746.1 390.5L737.1 388.5Z" fill="#ff1a4c"/><path d="M620.0 386.5L700.7 384.4L704.8 404.6L620.0 404.6Z" fill="#d9b299"/><path d="M749.2 227.0L906.6 227.0L906.6 249.2L862.2 255.3L833.9 263.3L813.7 251.2L793.6 257.3L761.3 259.3L749.2 253.3Z" fill="#3d264c"/><path d="M759.3 227.0L787.5 227.0L791.5 250.2L765.3 254.3Z" fill="#9c262e"/><path d="M793.6 227.0L823.8 227.0L829.9 263.3L813.7 251.2L795.6 257.3Z" fill="#472633"/><path d="M829.9 227.0L862.2 227.0L858.1 239.1L833.9 239.1Z" fill="#9c262e"/><path d="M749.2 255.3L761.3 261.3L793.6 259.3L813.7 253.3L833.9 265.4L862.2 257.3L906.6 249.2L906.6 285.5L880.3 289.6L858.1 303.7L842.0 315.8L749.2 316.8Z" fill="#141a4c"/><path d="M858.1 303.7L880.3 289.6L892.5 285.5L902.5 289.6L902.5 313.8L842.0 313.8Z" fill="#692638"/><path d="M880.3 295.6L901.5 291.6L902.5 313.8L878.3 313.8Z" fill="#7d2638"/><path d="M757.2 275.5L777.4 277.5L775.4 291.6L761.3 289.6Z" fill="#472633"/><path d="M749.2 334.0L769.3 332.0L793.6 325.9L821.8 325.9L850.1 329.9L880.3 325.9L882.4 354.2L870.3 362.2L850.1 340.0L821.8 336.0L793.6 336.0L769.3 344.1L749.2 350.1Z" fill="#9c262e"/><path d="M749.2 315.8L781.5 315.8L801.6 315.8L833.9 315.8L850.1 315.8L878.3 315.8L878.3 327.9L850.1 329.9L821.8 325.9L793.6 325.9L769.3 334.0L749.2 338.0Z" fill="#7d2638"/><path d="M749.2 317.8L781.5 317.8L779.4 325.9L761.3 329.9L749.2 325.9Z" fill="#3d264c"/><path d="M833.9 316.8L850.1 316.8L846.0 324.9L835.9 323.9Z" fill="#3d264c"/><path d="M880.3 317.8L902.5 317.8L904.6 354.2L890.4 346.1L882.4 329.9Z" fill="#692638"/><path d="M765.3 366.3L764.3 372.0L761.5 376.5L757.5 379.1L753.0 379.1L748.9 376.5L746.1 372.0L745.1 366.3L746.1 360.6L748.9 356.0L753.0 353.5L757.5 353.5L761.5 356.0L764.3 360.6Z" fill="#3d264c"/><path d="M761.3 366.3L760.7 370.2L759.0 373.4L756.6 375.1L753.9 375.1L751.4 373.4L749.8 370.2L749.2 366.3L749.8 362.3L751.4 359.2L753.9 357.4L756.6 357.4L759.0 359.2L760.7 362.3Z" fill="#ff1a4c"/><path d="M931.7 228.0L966.0 228.0L976.1 260.3L988.2 280.5L992.3 296.6L996.3 298.6L994.3 310.7L988.2 308.7L980.2 296.6L972.1 274.4L953.9 252.2L933.7 228.0Z" fill="#9c262e"/><path d="M907.5 228.0L933.7 228.0L953.9 252.2L972.1 274.4L980.2 296.6L988.2 308.7L978.1 310.7L972.1 288.5L955.9 270.4L933.7 252.2L909.5 239.1Z" fill="#7d2638"/><path d="M1000.3 298.6L1083.1 298.6L1083.1 318.8L1071.0 330.9L1054.8 339.0L1038.7 334.9L1022.5 320.8L1010.4 306.7Z" fill="#9c262e"/><path d="M990.3 351.1L1093.2 355.1L1093.2 387.4L1022.5 387.4L1002.4 371.3Z" fill="#9c262e"/><path d="M917.6 324.9L962.0 334.9L992.3 351.1L1022.5 375.3L1022.5 391.5L982.2 383.4L941.8 359.2L917.6 343.0Z" fill="#b8262e"/><path d="M893.4 228.0L909.5 228.0L933.7 252.2L955.9 270.4L972.1 288.5L978.1 310.7L962.0 318.8L933.7 310.7L913.6 290.5L901.5 260.3Z" fill="#472633"/><path d="M986.0 316.0L1005.0 330.0L1027.0 341.0L1054.0 346.0L1075.0 342.0L1092.0 334.0" fill="none" stroke="#9c262e" stroke-width="40" stroke-linejoin="round" stroke-linecap="round"/><path d="M986.0 316.0L1005.0 330.0L1027.0 341.0L1054.0 346.0L1075.0 342.0L1092.0 334.0" fill="none" stroke="#7d2638" stroke-width="25" stroke-linejoin="round" stroke-linecap="round"/><path d="M895.4 250.2L907.5 260.3L913.6 282.5L921.6 296.6L933.7 306.7L953.9 314.8L980.2 318.8L988.2 314.8L988.2 330.9L980.2 324.9L962.0 324.9L949.9 322.8L937.8 320.8L929.7 314.8L921.6 310.7L913.6 302.7L907.5 292.6L901.5 284.5L895.4 270.4Z" fill="#141a4c"/><path d="M986.0 316.0L1005.0 330.0L1027.0 341.0L1054.0 346.0L1075.0 342.0L1092.0 334.0" fill="none" stroke="#3d264c" stroke-width="17" stroke-linejoin="round" stroke-linecap="round"/><path d="M899.4 286.5L907.5 292.6L913.6 302.7L921.6 310.7L917.6 318.8L907.5 314.8L901.5 310.7Z" fill="#7d2638"/><path d="M660.0 411.1L692.3 409.0L694.3 445.4L660.0 445.4Z" fill="#9c262e"/><path d="M720.5 423.2L745.8 421.1L745.8 445.4L720.5 445.4Z" fill="#7d2638"/><path d="M748.8 405.0L813.4 405.0L809.3 421.1L785.1 431.2L756.9 429.2L748.8 417.1Z" fill="#9c262e"/><path d="M791.2 465.5L821.5 458.5L841.6 462.5L853.7 452.4L861.8 442.3L878.0 434.3L894.1 434.3L908.2 428.2L915.3 433.3L928.4 471.6L791.2 472.6Z" fill="#7d2638"/><path d="M841.6 472.6L853.7 465.5L869.9 462.5L882.0 454.4L898.1 445.4L914.3 440.3L922.4 457.5L929.4 472.6Z" fill="#3d264c"/><path d="M958.7 427.2L1020.0 425.2L1020.0 459.5L946.6 459.5L950.6 445.4Z" fill="#7d2638"/><path d="M924.4 459.5L1020.0 459.5L1020.0 485.7L1003.1 495.8L991.0 493.8L974.8 481.7L962.7 485.7L950.6 493.8L938.5 485.7L928.4 471.6Z" fill="#3d264c"/><path d="M791.2 473.6L928.4 473.6L928.4 481.7L902.2 485.7L869.9 482.7L853.7 486.7L833.6 494.8L821.5 502.9L813.4 515.0L801.3 525.1L791.2 527.1Z" fill="#3d264c"/><path d="M791.2 474.6L801.3 474.6L801.3 489.8L791.2 491.8Z" fill="#7d2638"/><path d="M892.1 485.7L942.5 485.7L942.5 509.9L912.3 509.9L894.1 501.9Z" fill="#9c262e"/><path d="M720.5 448.4L787.1 448.4L787.1 495.8L764.9 499.9L744.8 495.8L726.6 489.8L720.5 471.6Z" fill="#ff1a4c"/><path d="M740.7 514.0L764.9 505.9L787.1 501.9L787.1 550.3L748.8 546.3L736.7 530.1Z" fill="#3d264c"/><path d="M756.9 524.1L781.1 521.0L781.1 534.2L758.9 536.2Z" fill="#7d2638"/><path d="M974.8 505.9L1020.0 501.9L1020.0 558.4L986.9 554.3L974.8 534.2Z" fill="#b8262e"/><path d="M801.3 605.2L810.4 621.3L809.3 635.5L793.2 645.5L777.1 653.6L770.0 662.7" fill="none" stroke="#7d2638" stroke-width="18" stroke-linejoin="round" stroke-linecap="round"/><path d="M801.3 605.2L810.4 621.3L809.3 635.5L793.2 645.5L777.1 653.6L770.0 662.7" fill="none" stroke="#3d264c" stroke-width="8" stroke-linejoin="round" stroke-linecap="round"/><path d="M871.9 679.9L886.0 669.8L902.2 665.7L922.4 673.8L942.5 681.9L962.7 689.9L964.7 716.2L942.5 714.2L912.3 714.2L892.1 718.2L873.9 714.2L869.9 698.0Z" fill="#472633"/><path d="M914.3 700.0L962.7 698.0L962.7 714.2L922.4 714.2Z" fill="#141a4c"/><path d="M819.4 689.9L853.7 687.9L851.7 704.1L821.5 704.1Z" fill="#472633"/><path d="M748.8 692.0L764.9 698.0L781.1 706.1L789.2 722.2L805.3 734.3L821.5 743.4L841.6 746.5L861.8 738.4L872.9 726.3L869.9 714.2" fill="none" stroke="#7d2638" stroke-width="11" stroke-linejoin="round" stroke-linecap="round"/><path d="M748.8 692.0L764.9 698.0L781.1 706.1L789.2 722.2L805.3 734.3L821.5 743.4L841.6 746.5L861.8 738.4L872.9 726.3L869.9 714.2" fill="none" stroke="#3d264c" stroke-width="5" stroke-linejoin="round" stroke-linecap="round"/><path d="M750.8 692.0L789.2 689.9L789.2 714.2L764.9 714.2L750.8 704.1Z" fill="#3d264c"/><path d="M903.2 660.7L902.2 664.2L899.4 667.0L895.3 668.6L890.9 668.6L886.8 667.0L884.0 664.2L883.0 660.7L884.0 657.2L886.8 654.4L890.9 652.8L895.3 652.8L899.4 654.4L902.2 657.2Z" fill="#3d264c"/><path d="M897.1 660.7L896.7 662.0L895.6 663.0L894.0 663.6L892.2 663.6L890.6 663.0L889.5 662.0L889.1 660.7L889.5 659.4L890.6 658.3L892.2 657.7L894.0 657.7L895.6 658.3L896.7 659.4Z" fill="#ff1a4c"/><path d="M835.0 568.0L860.0 555.5L900.0 555.5L925.0 563.0L942.5 573.0L942.5 598.0L925.0 618.0L900.0 623.0L875.0 618.0L850.0 603.0L832.5 593.0Z" fill="#472633"/><path d="M875.0 573.0L930.0 573.0L930.0 608.0L900.0 610.5L875.0 598.0Z" fill="#3d264c"/><path d="M835.0 568.0L860.0 556.8L875.0 560.5L872.5 603.0L850.0 603.0L832.5 593.0Z" fill="#472633"/><path d="M947.5 593.0L975.0 588.0L1000.0 593.0L1020.0 583.0L1040.0 568.0L1045.0 578.0L1040.0 593.0L1025.0 613.0L1000.0 623.0L975.0 633.0L950.0 628.0Z" fill="#3d264c"/><path d="M1045.0 578.0L1075.0 578.0L1075.0 603.0L1050.0 608.0L1042.5 593.0Z" fill="#3d264c"/><path d="M1055.0 565.5L1085.0 565.5L1085.0 583.0L1055.0 583.0Z" fill="#7d2638"/><path d="M940.0 489.8L1036.9 493.8L1044.9 518.0L1036.9 550.3L1000.5 554.3L960.2 546.3L940.0 526.1Z" fill="#b8262e"/><path d="M976.3 514.0L1032.8 509.9L1032.8 542.2L996.5 546.3Z" fill="#b8262e"/><path d="M1028.8 526.1L1027.6 530.5L1024.2 534.0L1019.4 535.9L1014.0 535.9L1009.1 534.0L1005.8 530.5L1004.6 526.1L1005.8 521.7L1009.1 518.2L1014.0 516.3L1019.4 516.3L1024.2 518.2L1027.6 521.7Z" fill="#9c262e"/><path d="M1153.9 431.2L1202.4 429.2L1238.7 455.5L1238.7 481.7L1202.4 473.6L1174.1 473.6L1153.9 465.5Z" fill="#9c262e"/><path d="M1190.3 437.3L1222.5 437.3L1226.6 461.5L1194.3 465.5Z" fill="#ff1a4c"/><path d="M1185.2 465.5L1184.5 468.6L1182.5 471.1L1179.7 472.4L1176.6 472.4L1173.7 471.1L1171.8 468.6L1171.1 465.5L1171.8 462.5L1173.7 460.0L1176.6 458.7L1179.7 458.7L1182.5 460.0L1184.5 462.5Z" fill="#ff1a4c"/><path d="M1097.4 451.4L1149.9 451.4L1149.9 473.6L1121.6 475.6L1097.4 465.5Z" fill="#9c262e"/><path d="M1020.7 431.2L1093.4 431.2L1093.4 455.5L1069.2 445.4L1040.9 457.5L1020.7 465.5Z" fill="#9c262e"/><path d="M940.0 431.2L960.2 424.2L990.5 427.2L1020.7 431.2L1016.7 456.5L940.0 456.5Z" fill="#7d2638"/><path d="M960.2 441.3L992.5 441.3L990.5 455.5L962.2 455.5Z" fill="#472633"/><path d="M1113.6 518.0L1141.8 518.0L1162.0 528.1L1194.3 528.1L1206.4 546.3L1182.2 558.4L1141.8 558.4L1117.6 542.2Z" fill="#7d2638"/><path d="M940.0 457.5L1010.6 456.5L1020.7 465.5L1040.9 457.5L1053.0 447.4L1069.2 445.4L1085.3 453.4L1095.4 463.5L1107.5 471.6L1121.6 475.6L1133.7 471.6L1149.9 473.6L1162.0 467.6L1174.1 475.6L1186.2 469.6L1202.4 475.6L1202.4 534.2L1194.3 526.1L1178.1 530.1L1162.0 526.1L1149.9 514.0L1137.8 518.0L1129.7 512.0L1117.6 507.9L1101.5 499.9L1093.4 495.8L1069.2 493.8L1053.0 497.8L1028.8 493.8L1016.7 489.8L1000.5 493.8L980.4 485.7L960.2 489.8L940.0 485.7Z" fill="#3d264c"/><path d="M940.0 463.5L1008.6 463.5L1008.6 483.7L940.0 481.7Z" fill="#141a4c"/><path d="M1016.7 467.6L1053.0 461.5L1093.4 465.5L1093.4 489.8L1053.0 491.8L1024.8 485.7Z" fill="#141a4c"/><path d="M1099.4 481.7L1149.9 481.7L1149.9 497.8L1129.7 505.9L1101.5 495.8Z" fill="#141a4c"/><path d="M1162.0 501.9L1198.3 505.9L1198.3 526.1L1166.0 522.1Z" fill="#141a4c"/><path d="M1174.1 538.2L1173.5 540.4L1171.8 542.1L1169.4 543.1L1166.7 543.1L1164.3 542.1L1162.6 540.4L1162.0 538.2L1162.6 536.0L1164.3 534.3L1166.7 533.3L1169.4 533.3L1171.8 534.3L1173.5 536.0Z" fill="#3d264c"/><path d="M1034.9 558.4L1053.0 554.3L1049.0 584.6L1016.7 584.6L1020.7 570.5Z" fill="#472633"/><path d="M1053.0 566.5L1085.3 566.5L1081.3 584.6L1053.0 584.6Z" fill="#7d2638"/><path d="M1135.0 606.0L1187.0 584.0L1225.0 551.0" fill="none" stroke="#8ce6b2" stroke-width="36" stroke-linejoin="round" stroke-linecap="round"/><path d="M1225.0 551.0L1270.0 514.0L1300.0 490.0L1330.0 462.0L1360.0 440.0" fill="none" stroke="#8ce6b2" stroke-width="44" stroke-linejoin="round" stroke-linecap="round"/><path d="M1262.0 440.0L1300.0 452.0L1340.0 440.0L1378.0 418.0" fill="none" stroke="#d9b299" stroke-width="26" stroke-linejoin="round" stroke-linecap="round"/><path d="M1392.0 385.0L1384.0 420.0L1372.0 440.0" fill="none" stroke="#d9b299" stroke-width="10" stroke-linejoin="round" stroke-linecap="round"/><path d="M1412.0 345.0L1416.0 392.0" fill="none" stroke="#8ce6b2" stroke-width="42" stroke-linejoin="round" stroke-linecap="round"/><path d="M1392.0 398.0L1450.0 398.0L1462.0 425.0L1440.0 432.0L1392.0 432.0Z" fill="#e68066"/><path d="M1200.0 455.5L1226.2 455.5L1236.3 471.6L1226.2 485.7L1200.0 485.7Z" fill="#9c262e"/><path d="M1258.5 421.1L1361.5 421.1L1361.5 439.3L1329.2 443.3L1296.9 437.3L1258.5 435.3Z" fill="#3d264c"/><path d="M1296.9 465.5L1325.1 459.5L1357.4 455.5L1361.5 451.4L1387.7 451.4L1387.7 473.6L1375.6 493.8L1361.5 505.9L1353.4 485.7L1345.3 479.7L1296.9 479.7Z" fill="#3d264c"/><path d="M1200.0 485.7L1240.4 481.7L1264.6 489.8L1260.5 518.0L1248.4 538.2L1220.2 546.3L1200.0 534.2Z" fill="#692638"/><path d="M1222.2 522.1L1221.2 527.3L1218.4 531.5L1214.4 533.9L1209.9 533.9L1205.8 531.5L1203.0 527.3L1202.0 522.1L1203.0 516.8L1205.8 512.6L1209.9 510.2L1214.4 510.2L1218.4 512.6L1221.2 516.8Z" fill="#7d2638"/><path d="M1250.5 493.8L1249.5 496.4L1246.7 498.5L1242.6 499.7L1238.1 499.7L1234.1 498.5L1231.3 496.4L1230.3 493.8L1231.3 491.2L1234.1 489.1L1238.1 487.9L1242.6 487.9L1246.7 489.1L1249.5 491.2Z" fill="#7d2638"/><path d="M1200.0 489.8L1216.1 489.8L1216.1 509.9L1200.0 509.9Z" fill="#3d264c"/><path d="M1299.9 527.1L1299.1 530.2L1296.9 532.6L1293.6 534.0L1290.0 534.0L1286.8 532.6L1284.6 530.2L1283.8 527.1L1284.6 524.0L1286.8 521.6L1290.0 520.2L1293.6 520.2L1296.9 521.6L1299.1 524.0Z" fill="#9c262e"/><path d="M1269.6 552.3L1268.9 555.0L1267.0 557.1L1264.1 558.2L1261.0 558.2L1258.2 557.1L1256.2 555.0L1255.5 552.3L1256.2 549.7L1258.2 547.6L1261.0 546.4L1264.1 546.4L1267.0 547.6L1268.9 549.7Z" fill="#9c262e"/><path d="M1264.6 483.7L1325.1 481.7L1321.1 499.9L1304.9 509.9L1276.7 505.9Z" fill="#3d264c"/><path d="M1345.3 479.7L1361.5 479.7L1361.5 495.8L1347.3 495.8Z" fill="#3d264c"/><path d="M1341.3 499.9L1357.4 497.8L1357.4 518.0L1349.3 534.2L1341.3 518.0Z" fill="#9c262e"/><path d="M1485.0 295.0L1510.0 287.5L1511.2 320.0L1505.0 320.0L1490.0 330.0L1475.0 340.0L1470.0 325.0Z" fill="#9c262e"/><path d="M1497.5 302.5L1511.2 300.0L1511.2 320.0L1500.0 320.0Z" fill="#7d2638"/><path d="M1445.0 380.0L1457.5 360.0L1475.0 345.0L1490.0 330.0L1505.0 320.0L1512.5 320.0L1525.0 327.5L1535.0 345.0L1515.0 365.0L1500.0 362.5L1485.0 367.5L1475.0 377.5L1460.0 390.0L1450.0 395.0Z" fill="#3d264c"/><path d="M1340.0 347.5L1362.5 340.0L1390.0 342.5L1390.0 400.0L1345.0 400.0L1332.5 380.0Z" fill="#3d264c"/><path d="M1358.8 360.0L1370.0 348.8L1381.2 351.2L1382.5 370.0L1373.8 386.2L1362.5 387.5L1356.2 375.0Z" fill="#ff1a4c"/><path d="M1330.0 365.0L1345.0 347.5L1362.5 341.2L1360.0 345.0L1340.0 355.0L1335.0 370.0Z" fill="#7d2638"/><path d="M1348.0 376.2L1347.5 378.2L1345.9 379.8L1343.7 380.6L1341.3 380.6L1339.1 379.8L1337.5 378.2L1337.0 376.2L1337.5 374.3L1339.1 372.7L1341.3 371.9L1343.7 371.9L1345.9 372.7L1347.5 374.3Z" fill="#ff1a4c"/><path d="M1388.8 400.0L1386.2 420.0L1382.5 437.5" fill="none" stroke="#ff1a4c" stroke-width="8" stroke-linejoin="round" stroke-linecap="round"/><path d="M1261.8 401.1L1278.0 397.1L1322.4 399.1L1330.4 393.0L1378.9 393.0L1382.9 409.2L1322.4 417.2L1261.8 419.3Z" fill="#3d264c"/><path d="M1060.0 300.2L1086.2 300.2L1086.2 320.4L1060.0 320.4Z" fill="#9c262e"/><path d="M1060.0 350.6L1086.2 350.6L1086.2 393.0L1060.0 393.0Z" fill="#9c262e"/><path d="M1080.2 367.8L1079.6 370.9L1077.9 373.3L1075.5 374.7L1072.8 374.7L1070.4 373.3L1068.7 370.9L1068.1 367.8L1068.7 364.7L1070.4 362.3L1072.8 360.9L1075.5 360.9L1077.9 362.3L1079.6 364.7Z" fill="#ff1a4c"/><path d="M1060.0 421.3L1090.3 421.3L1090.3 459.6L1060.0 459.6Z" fill="#7d2638"/><path d="M1060.0 445.5L1076.1 445.5L1076.1 459.6L1060.0 459.6Z" fill="#472633"/><path d="M1090.3 302.2L1160.9 302.2L1164.9 320.4L1090.3 320.4Z" fill="#9c262e"/><path d="M1118.5 346.6L1126.6 336.5L1138.7 328.4L1148.8 320.4L1156.9 318.3L1169.0 320.4L1181.1 326.4L1189.2 336.5L1190.2 348.6L1187.1 360.7L1179.1 368.8L1169.0 370.8L1156.9 371.8L1146.8 374.9L1136.7 376.9L1126.6 374.9L1118.5 368.8L1118.5 356.7Z" fill="#472633"/><path d="M1114.5 348.6L1144.8 346.6L1148.8 372.8L1126.6 373.8L1114.5 364.8Z" fill="#141a4c"/><path d="M1179.1 340.5L1191.2 340.5L1191.2 360.7L1180.1 360.7Z" fill="#141a4c"/><path d="M1183.1 368.8L1199.3 368.8L1199.3 389.0L1185.1 384.9Z" fill="#7d2638"/><path d="M1184.1 444.5L1183.6 446.7L1182.2 448.4L1180.2 449.4L1177.9 449.4L1175.9 448.4L1174.5 446.7L1174.0 444.5L1174.5 442.3L1175.9 440.5L1177.9 439.6L1180.2 439.6L1182.2 440.5L1183.6 442.3Z" fill="#7d2638"/><path d="M1156.9 433.4L1191.2 433.4L1191.2 459.6L1156.9 459.6Z" fill="#9c262e"/><path d="M1034.3 605.2L1137.2 605.2L1141.3 617.3L1161.5 613.3L1181.6 611.2L1201.8 605.2L1232.1 601.1L1258.3 597.1L1270.4 601.1L1258.3 605.2L1242.2 617.3L1226.0 625.4L1209.9 629.4L1193.7 633.4L1181.6 643.5L1165.5 651.6L1153.4 659.7L1137.2 661.7L1125.1 653.6L1113.0 639.5L1096.9 641.5L1080.7 631.4L1066.6 625.4L1050.5 631.4L1034.3 625.4Z" fill="#3d264c"/><path d="M1109.0 623.3L1107.8 626.0L1104.4 628.1L1099.6 629.2L1094.2 629.2L1089.3 628.1L1086.0 626.0L1084.8 623.3L1086.0 620.7L1089.3 618.6L1094.2 617.4L1099.6 617.4L1104.4 618.6L1107.8 620.7Z" fill="#7d2638"/><path d="M1129.2 633.4L1128.4 636.9L1126.1 639.7L1122.9 641.3L1119.3 641.3L1116.1 639.7L1113.8 636.9L1113.0 633.4L1113.8 629.9L1116.1 627.1L1119.3 625.6L1122.9 625.6L1126.1 627.1L1128.4 629.9Z" fill="#7d2638"/><path d="M1000.0 585.0L1040.4 585.0L1034.3 605.2L1024.2 611.2L1000.0 607.2Z" fill="#3d264c"/><path d="M1000.0 673.8L1012.1 685.9L1028.3 700.0L1040.4 706.1L1060.5 706.1L1076.7 704.1L1092.8 706.1L1113.0 704.1L1129.2 704.1L1145.3 700.0L1157.4 689.9L1173.6 685.9L1189.7 681.9L1201.8 673.8L1218.0 669.8L1238.1 665.7L1242.2 689.9L1230.1 714.2L1209.9 724.3L1201.8 718.2L1181.6 722.2L1161.5 730.3L1153.4 724.3L1145.3 730.3L1141.3 746.5L1125.1 738.4L1104.9 738.4L1092.8 738.4L1080.7 742.4L1060.5 738.4L1048.4 734.3L1036.3 726.3L1020.2 716.2L1000.0 714.2Z" fill="#3d264c"/><path d="M1076.7 705.1L1141.3 704.1L1141.3 711.1L1076.7 711.1Z" fill="#472633"/><path d="M1234.1 669.8L1254.3 657.7L1270.4 645.5L1286.6 633.4L1302.7 625.4" fill="none" stroke="#7d2638" stroke-width="10" stroke-linejoin="round" stroke-linecap="round"/><path d="M1262.4 601.1L1302.7 597.1L1343.1 593.1L1343.1 609.2L1314.8 621.3L1282.5 625.4L1262.4 617.3Z" fill="#9c262e"/><path d="M1252.3 581.0L1355.2 581.0L1355.2 593.1L1302.7 599.1L1262.4 601.1Z" fill="#3d264c"/><path d="M1141.3 726.3L1222.0 718.2L1226.0 742.4L1201.8 764.6L1181.6 750.5L1161.5 738.4Z" fill="#b8262e"/><path d="M962.7 681.9L1020.0 673.8L1020.0 716.2L962.7 716.2Z" fill="#3d264c"/><path d="M1201.8 774.5L1218.6 763.3L1238.3 768.9L1243.9 797.0L1241.1 813.8L1218.6 819.4L1201.8 808.2L1196.2 791.4Z" fill="#3d264c"/><path d="M821.4 763.3L846.6 760.5L874.6 766.1L897.0 785.7L891.4 813.7L869.0 813.7L846.6 785.7L829.8 780.1Z" fill="#3d264c"/><path d="M841.6 555.4L938.5 555.4L940.5 566.5L902.2 572.5L861.8 566.5L841.6 564.4Z" fill="#472633"/><path d="M1388.0 453.0L1410.0 446.0L1440.0 440.0" fill="none" stroke="#7d2638" stroke-width="8" stroke-linejoin="round" stroke-linecap="round"/><path d="M790.5 465.0L840.9 461.6L881.3 457.5L921.6 460.5L921.6 471.0L790.5 471.0Z" fill="#3d264c"/><path d="M953.9 430.3L982.2 426.2L1018.5 434.3L1016.5 450.5L962.0 452.5L949.9 444.4Z" fill="#472633"/></g>

</g>
<g fill="none" stroke="#000" stroke-width="3.7" stroke-linejoin="round" stroke-linecap="round">
<path d="M310.7 251.6L320.8 255.0L331.3 257.7L342.9 257.7L350.3 258.2L351.3 249.0L350.3 235.8L933.3 235.8L933.3 225.8L939.7 227.1L943.2 239.0L944.9 243.2L960.7 245.5L969.1 247.7L979.7 245.8L989.1 251.1L999.7 255.6L1012.3 260.3L1023.9 256.4L1035.4 259.5L1044.9 262.1L1052.3 262.1L1042.8 266.1L1031.2 270.1L1020.7 277.2L1011.2 284.5L1003.9 289.8L997.5 294.6L1000.7 296.4L1010.2 294.8L1020.7 291.7L1026.0 289.8L1023.9 297.7L1030.2 299.6L1033.3 299.8L1039.2 305.9L1060.7 311.2L1068.1 315.4L1081.7 317.0L1081.7 320.6L1088.1 324.1L1087.0 332.0L1091.2 338.6L1084.3 349.1L1083.9 353.1L1089.1 349.1L1096.5 343.8L1103.8 334.6L1102.8 339.9L1097.5 346.5L1093.3 358.3L1091.2 364.9L1089.7 375.5L1086.0 388.6L1086.6 395.2L1088.1 407.1L1089.1 417.6L1092.3 424.2L1094.4 428.2L1100.7 430.3L1107.0 427.6L1108.7 426.6L1150.8 426.6L1150.8 428.2L1179.2 427.4L1184.9 430.0L1192.3 432.1L1195.4 433.4L1199.6 436.1L1210.2 433.4L1216.5 433.4L1225.9 426.8L1235.4 422.9L1241.3 420.8L1250.1 416.3L1257.3 413.1L1267.0 407.1L1273.3 401.8L1275.8 397.9L1272.7 391.3L1271.8 387.0L1283.8 384.2L1298.6 384.7L1307.0 386.8L1316.5 386.8L1325.9 381.5L1332.2 379.4L1333.3 370.2L1329.1 364.9L1339.6 357.0L1351.2 345.7L1358.6 341.7L1363.8 341.2L1392.2 340.9L1431.2 340.9L1433.3 335.4L1439.6 333.3L1444.9 334.6L1445.9 330.1L1449.7 330.7L1447.6 326.7L1454.3 321.4L1456.9 314.8L1457.5 310.9L1456.4 306.9L1461.7 303.8L1462.8 296.4L1479.0 276.4L1482.8 277.4L1485.9 283.8L1497.5 279.3L1509.1 286.7L1509.3 316.4L1510.1 320.1L1509.1 323.3L1516.4 325.4L1516.9 333.3L1515.8 337.2L1519.6 337.2L1522.7 337.2L1527.0 345.9L1521.7 350.4L1514.3 353.1L1507.0 357.0L1500.6 359.6L1493.3 361.0L1488.0 355.7L1483.8 364.9L1481.7 368.1L1471.2 372.3L1462.8 375.5L1458.5 378.1L1455.4 382.0L1451.2 386.0L1448.0 392.1L1445.5 397.3L1448.0 403.1L1443.8 407.1L1441.7 412.3L1447.0 415.0L1450.1 421.6L1452.2 426.0L1458.5 426.8L1462.8 425.5L1461.7 420.2L1458.5 418.4L1462.8 420.2L1464.2 428.2L1456.4 430.0L1449.1 432.6L1448.0 428.2L1442.8 431.3L1439.2 433.4L1435.4 429.5L1433.3 434.7L1431.2 436.9L1423.6 438.2L1414.3 439.2L1401.7 439.5L1395.4 442.6L1385.9 446.6L1383.8 449.8L1379.6 453.2L1378.6 454.5L1374.3 456.3L1373.3 459.8L1378.6 461.1L1378.6 467.7L1376.4 479.5L1370.1 489.6L1363.8 496.7L1358.6 501.1L1355.8 504.6L1356.5 513.8L1354.3 520.4L1349.1 529.6L1343.8 538.8L1337.1 548.8L1336.5 554.1L1339.2 563.9L1341.7 573.1L1347.0 583.6L1346.6 598.1L1336.5 602.9L1325.9 613.9L1315.4 613.4L1304.9 619.2L1296.5 632.4L1295.4 635.0L1282.8 634.7L1275.4 640.3L1269.1 652.1L1264.9 657.4L1254.4 665.3L1242.8 674.5L1237.5 679.8L1233.9 683.0L1229.1 691.7L1224.9 704.8L1221.7 717.7L1222.8 725.9L1225.5 739.1L1231.2 757.5L1240.7 777.3L1239.6 786.5L1244.9 799.7L1250.1 815.5L1251.6 823.4L1250.1 841.9L1249.1 848.4L1244.9 859.0L1238.6 864.2L1229.1 865.0L1228.0 857.7L1223.8 846.6L1214.4 839.2L1211.2 830.0L1205.9 822.1L1200.7 812.9L1196.5 803.6L1199.6 794.4L1194.4 795.7L1192.7 789.2L1195.4 777.3L1196.5 765.4L1189.1 758.8L1180.7 749.6L1175.4 739.1L1167.0 733.8L1160.7 736.5L1159.6 739.1L1147.0 745.7L1139.6 745.1L1138.6 740.4L1132.3 733.0L1119.6 725.9L1109.1 725.9L1100.7 727.8L1094.0 729.1L1086.0 729.9L1084.9 719.3L1081.7 725.9L1075.4 726.7L1064.9 725.9L1056.5 728.5L1050.2 731.7L1047.0 733.8L1053.3 735.1L1055.4 740.4L1050.2 744.4L1055.4 750.9L1061.8 757.5L1055.4 764.1L1053.3 757.5L1046.0 753.6L1040.7 757.5L1036.5 760.7L1027.0 761.5L1020.7 758.8L1014.4 754.9L1010.2 749.6L1002.8 749.6L1001.8 743.0L996.5 747.0L986.0 747.5L973.3 742.5L960.7 744.4L949.1 749.6L941.8 753.6L934.4 760.2L923.9 769.4L911.2 777.3L902.8 782.6L894.4 791.8L888.1 802.3L886.0 810.2L887.0 826.0L891.2 842.9L883.9 845.3L871.2 840.5L860.7 835.3L850.2 830.8L846.0 819.5L841.8 807.6L840.7 799.7L831.3 786.5L823.9 777.3L817.6 761.5L810.2 752.3L801.8 742.5L789.2 741.7L781.8 739.9L774.4 744.4L771.3 754.9L764.9 763.3L755.5 758.8L747.1 754.4L736.5 746.5L732.3 735.1L726.0 719.3L713.4 708.0L700.7 697.7L693.8 689.5L658.4 689.5L658.4 701.4L598.2 701.4L519.5 670.8L521.4 664.8L470.9 669.8L468.1 661.4L465.0 652.1L457.6 644.2L450.2 638.4L443.9 637.6L441.8 630.5L435.5 631.0L426.0 625.8L418.7 620.5L410.3 619.2L400.4 619.2L396.6 615.8L397.2 602.1L391.9 594.2L382.9 586.3L371.3 571.8L369.2 562.5L372.4 557.3L367.1 553.3L359.7 546.7L357.6 537.5L357.6 530.9L348.2 525.6L346.1 517.7L336.6 505.9L332.4 500.6L330.3 488.8L329.2 478.2L323.9 470.3L317.6 461.4L321.8 451.9L323.5 444.0L322.9 430.8L321.6 420.2L317.6 407.1L314.5 398.1L318.7 386.0L322.9 370.2L324.4 351.7L326.7 333.3L327.1 317.5L326.1 308.3L325.0 297.7L323.9 289.8L319.7 279.3L312.6 264.8L310.7 257.7ZM1033.3 299.8L1044.9 293.8L1056.5 291.9L1063.9 287.2L1073.3 280.6L1080.7 276.6L1089.1 276.1L1084.9 280.6L1077.5 285.9L1075.4 289.8L1074.4 293.8L1079.6 291.1L1090.2 292.5L1096.5 300.4L1104.9 301.7L1112.3 303.8L1122.8 297.2L1136.5 296.9L1147.0 294.6L1148.1 302.2L1155.4 303.0L1160.7 301.7L1164.9 306.9L1165.9 313.5L1169.1 314.8L1160.7 315.4L1152.9 318.3L1147.0 313.5L1136.5 312.7L1128.1 316.2L1119.6 317.0L1113.3 322.8L1111.2 318.8L1104.9 320.6L1101.7 325.4L1096.5 330.7L1091.2 338.6L1087.0 332.0L1088.1 324.1L1081.7 320.6L1081.7 317.0L1068.1 315.4L1060.7 311.2L1039.2 305.9ZM1108.7 426.6L1113.3 420.2L1118.6 412.3L1121.3 401.8L1119.6 389.9L1115.4 376.8L1115.4 366.2L1119.6 359.6L1121.3 350.4L1124.9 343.8L1133.3 337.2L1137.5 339.9L1139.6 334.6L1147.0 331.5L1146.0 325.4L1152.3 320.6L1159.6 324.1L1170.2 329.3L1179.6 333.3L1180.7 339.9L1182.8 346.5L1181.7 358.3L1177.5 366.2L1170.2 372.8L1170.2 377.6L1177.5 375.5L1182.8 368.9L1190.2 365.7L1196.5 371.5L1199.6 386.0L1201.3 393.9L1199.6 403.1L1192.3 408.4L1187.0 412.9L1184.9 420.2L1179.2 427.4L1150.8 428.2L1150.8 426.6ZM1378.1 457.1L1383.8 451.9L1391.2 448.4L1408.0 447.1L1414.3 442.6L1411.2 447.9L1422.8 444.8L1410.1 451.1L1393.3 456.3L1379.6 457.9Z"/>
<path d="M326.1 308.3L335.5 308.3L342.9 310.9L349.2 312.2L351.3 318.8L353.4 324.9L363.9 326.2L378.7 322.8L385.0 325.4L397.6 322.2L410.3 319.6L422.9 317.0L431.7 314.8L475.1 314.8M472.6 235.8L472.6 303.8L475.1 310.4L475.1 314.8M475.1 314.8L478.7 320.1L483.9 328.0L479.7 335.9L476.6 342.5L472.3 347.8L469.2 355.7L473.4 361.0L475.5 363.6L472.8 372.0L472.8 420.2M493.4 235.8L493.4 262.7L500.8 274.0L513.4 287.2L522.9 296.4L529.2 297.7L527.1 310.9L525.0 325.4L536.6 323.3L541.8 332.0L548.1 342.5L555.5 347.8L560.8 357.5L572.3 353.1L582.9 353.8L590.2 349.1L593.4 349.1L598.6 355.2M598.6 341.2L746.0 341.2M598.6 341.2L598.6 446.6M746.0 235.8L746.0 446.6M321.6 420.2L598.6 420.2M598.6 446.6L788.1 446.6L788.1 552.0M746.0 316.4L903.7 316.4M746.0 393.9L862.8 393.9L871.2 397.9L876.5 397.3L888.1 397.3L895.5 400.5L901.8 404.4L906.0 407.1M410.3 420.2L410.3 499.3L523.3 604.7L525.0 611.3L529.2 619.2L533.4 623.7L527.1 631.0L525.6 639.0L521.8 646.9L521.8 656.1L526.0 658.7L521.4 664.8M535.7 420.2L535.7 573.1L530.2 577.0L521.8 575.7L520.8 579.7L522.9 588.9L523.9 600.7L523.3 604.7M535.7 552.0L788.3 552.0L944.5 552.0M640.8 446.6L640.8 701.4M768.1 552.0L768.1 565.2L767.3 565.2L766.8 683.8L691.9 683.8L693.8 689.5M768.1 565.2L831.3 565.2L831.3 616.3M831.3 616.3L839.7 620.5L848.1 621.8L854.4 625.8L862.8 628.4L871.2 627.1L875.5 633.7L888.1 635.0L894.4 637.6L902.8 635.0L915.5 637.6L928.1 634.5L936.5 632.4L947.4 640.5L956.7 642.9M788.1 472.9L930.2 472.9M889.6 235.8L891.2 247.7L892.3 262.1L897.6 274.0L898.2 289.8L902.8 305.6L903.7 316.4L897.6 324.9L906.0 333.3L906.0 380.7L902.8 382.0L906.0 391.3L902.4 400.5L906.0 407.1M906.0 380.7L1016.1 380.7M906.0 407.1L909.1 415.0L913.3 428.2L917.6 441.3L918.6 454.5L920.7 457.7L930.2 472.9L934.4 476.9L938.6 488.8L944.9 496.7L944.5 565.2M920.3 457.7L1005.3 457.1L1011.9 462.9M944.5 565.2L1038.6 565.2L1034.0 578.4L1048.1 578.4M944.5 565.2L948.5 594.2L947.4 640.5M956.7 656.9L1017.1 657.4M956.7 642.9L956.7 684.0L961.8 694.3L967.0 706.1L963.9 720.6L963.9 733.8L960.7 744.4M997.5 294.6L993.5 297.7L993.5 313.0L983.9 318.8L981.1 326.7L986.0 332.0L983.9 347.8L993.3 354.4L1001.8 362.3L1014.4 371.5L1016.1 380.7L1018.6 400.5L1028.1 407.1L1037.5 417.6L1037.5 425.5L1034.4 432.1L1019.7 436.1L1018.6 451.9L1011.9 462.9L1010.2 472.9L1012.3 479.5L1026.0 492.7L1027.6 500.6L1037.5 503.3L1037.5 509.8L1034.4 520.4L1043.9 528.8L1052.3 544.1L1059.6 552.0L1055.4 562.5L1051.2 565.2L1048.1 578.4L1040.7 594.2L1039.6 602.1L1035.4 604.7L1029.1 617.9L1018.6 633.7L1017.5 649.5L1017.1 657.4L1018.6 670.6L1022.8 675.8L1013.3 694.3L1008.1 710.1L1047.4 710.1L1044.9 719.3L1050.2 731.7M1028.1 407.1L1088.1 407.1M1093.7 427.6L1093.7 490.1L1091.2 499.3L1094.4 512.5L1084.9 519.1L1082.8 530.9M1241.3 456.1L1238.6 462.4L1237.5 470.3L1234.4 480.9L1222.8 490.1L1215.4 496.7L1214.4 500.6L1205.9 509.8L1197.5 514.6L1192.3 506.4L1182.8 509.8L1174.4 509.0L1163.8 504.6L1157.5 496.7L1150.8 496.7L1151.2 504.6L1138.6 506.4L1132.3 517.7L1126.0 525.6L1115.4 527.5L1102.8 531.4L1092.3 526.4L1082.8 530.9L1074.4 549.4L1059.6 552.0M1150.8 428.2L1150.8 496.7M1241.3 420.8L1241.3 480.3M1241.3 480.3L1340.9 480.3L1344.9 477.4L1348.7 478.2M1257.3 413.1L1257.3 420.2L1350.1 420.2L1356.5 430.8L1363.8 437.1L1354.8 447.4L1353.3 457.1L1362.8 467.7L1355.4 475.6L1348.7 478.2L1345.9 482.2M1363.8 437.1L1380.7 446.6M1340.9 480.3L1342.8 513.5L1356.5 513.8M1035.4 604.7L1187.0 604.7M1052.3 565.2L1082.4 565.2L1082.4 560.4L1175.0 562.5L1216.9 562.8L1339.2 563.9M1079.6 604.7L1081.7 607.3L1074.0 686.4L1075.4 726.7M1134.4 605.2L1143.2 660.8L1147.0 675.8L1144.9 694.3L1147.0 710.1M1094.0 729.1L1096.5 719.3L1092.3 710.1L1147.0 710.1L1149.9 718.0L1205.9 721.4L1209.1 727.0L1210.2 716.7L1221.7 717.7M1187.0 604.7L1181.7 612.6L1191.2 619.2L1198.6 632.4L1211.2 644.2L1220.7 657.4L1222.8 667.9L1229.1 681.1L1233.9 683.0M1187.0 604.7L1201.7 599.4L1230.4 600.7L1230.4 603.6L1232.7 602.1L1235.8 609.4L1259.2 610.0L1282.8 634.7M1161.3 604.7L1167.0 597.6L1178.6 589.7L1190.2 579.7L1197.5 577.6L1209.1 575.2L1216.9 562.8M1175.0 562.5L1187.0 556.0L1203.8 544.1L1210.8 537.8L1201.7 528.3L1197.5 520.4L1197.5 514.6M1210.8 537.8L1216.9 546.7L1226.4 545.7L1234.4 542.8L1245.9 538.8L1252.3 525.6L1259.6 509.8L1269.1 512.5L1276.0 505.6L1287.0 488.8L1297.9 495.9L1300.2 490.9L1290.1 481.4L1277.5 483.5L1263.0 494.0L1263.2 480.3M1300.2 490.9L1304.9 496.7L1313.3 500.6L1314.6 504.6M1385.9 446.6L1389.1 441.3L1389.1 418.9L1393.9 401.0L1394.3 378.1L1391.2 367.6L1392.2 340.9M1389.1 418.9L1424.9 419.7L1433.7 419.7L1433.7 423.4L1437.5 428.2L1439.2 433.4M1424.9 419.7L1424.9 436.1L1423.6 438.2M1393.9 401.0L1435.4 401.8L1440.7 397.9L1445.5 397.3M1411.0 401.0L1412.2 386.0L1416.4 372.8L1419.6 362.3L1429.1 354.4L1431.2 340.9M1447.6 391.8L1442.3 383.4L1441.1 333.3M1033.3 299.8L1039.2 305.9L1060.7 311.2L1068.1 315.4L1081.7 317.0L1081.7 320.6L1088.1 324.1L1087.0 332.0L1091.2 338.6M1334.3 484.8L1328.0 492.7L1327.0 499.3L1324.9 505.9L1328.0 516.4L1329.5 524.3L1323.8 521.7L1315.4 517.7L1310.1 516.4L1313.3 508.5L1314.6 504.6L1309.1 513.8L1315.4 519.1L1323.8 524.3L1331.2 528.8L1323.8 532.2L1330.1 536.2L1321.7 540.1L1330.1 544.1L1322.8 546.7L1330.1 552.0L1336.5 554.1M1337.1 548.8L1336.5 542.8L1340.7 533.6L1343.8 527.0L1339.6 525.6L1336.5 519.1L1330.1 513.8L1332.2 505.9L1330.1 500.6L1333.3 491.4L1337.5 484.8L1334.3 484.8M1358.6 501.1L1358.6 494.6L1351.2 491.4L1345.9 486.1L1345.9 482.2M1345.9 482.2L1348.0 491.4L1351.2 499.3L1355.8 504.6M1339.2 563.9L1336.5 573.1L1330.1 575.7L1336.5 578.4L1328.0 579.7L1338.6 581.0L1340.7 588.9L1334.3 595.5L1323.8 591.5L1328.0 596.8L1319.6 604.7L1325.9 606.0L1325.9 613.9M1033.3 733.8L1039.6 727.2L1046.0 731.2L1039.6 735.1L1033.3 733.8"/>
<path d="M351.0 243.0L353.0 249.0" stroke-width="8"/>
<path d="M353.0 249.0L359.0 256.0L361.0 266.0" stroke-width="5"/>
<path d="M360.0 268.0L355.0 274.0L351.0 281.0L356.0 284.0" stroke-width="9"/>
<path d="M347.0 277.0L352.0 272.0" stroke-width="7"/>
<path d="M345.0 244.0L348.0 248.0" stroke-width="5"/>
<path d="M359.7 527.0L362.9 530.9L365.0 537.5L367.1 540.1" stroke-width="6"/>
<path d="M361.8 523.0L368.2 523.8" stroke-width="4"/>
<path d="M1445.5 436.6L1452.2 436.6" stroke-width="4.5"/>
<path d="M1458.5 439.0L1463.2 439.2" stroke-width="4.5"/>
<path d="M1196.5 790.5L1199.6 798.4" stroke-width="5"/>
<path d="M1207.0 818.1L1209.1 824.7" stroke-width="4"/>
<path d="M1134.0 337.2L1135.4 345.2" stroke-width="4"/>
<path d="M1092.3 339.9L1102.8 332.0" stroke-width="4"/>
</g>
</svg>
<div class="lt">Relative pop. size</div>
<div class="lb" style="top:430.0px;background:#4d4d4d"></div><div class="ll" style="top:431.9px">excl.-severe</div>
<div class="lb" style="top:455.4px;background:#1874cd"></div><div class="ll" style="top:457.3px">0-10</div>
<div class="lb" style="top:480.8px;background:#4a919b"></div><div class="ll" style="top:482.7px">10-20</div>
<div class="lb" style="top:506.3px;background:#7eb073"></div><div class="ll" style="top:508.2px">20-30</div>
<div class="lb" style="top:531.7px;background:#b0ce45"></div><div class="ll" style="top:533.6px">30-40</div>
<div class="lb" style="top:557.1px;background:#e4ed18"></div><div class="ll" style="top:559.0px">40-50</div>
<div class="lb" style="top:582.5px;background:#f7e005"></div><div class="ll" style="top:584.4px">50-60</div>
<div class="lb" style="top:607.9px;background:#eeaa00"></div><div class="ll" style="top:609.8px">60-70</div>
<div class="lb" style="top:633.4px;background:#e47000"></div><div class="ll" style="top:635.3px">70-80</div>
<div class="lb" style="top:658.8px;background:#da3800"></div><div class="ll" style="top:660.7px">80-90</div>
<div class="lb" style="top:684.2px;background:#cd0000"></div><div class="ll" style="top:686.1px">90-100</div>
</body></html>
